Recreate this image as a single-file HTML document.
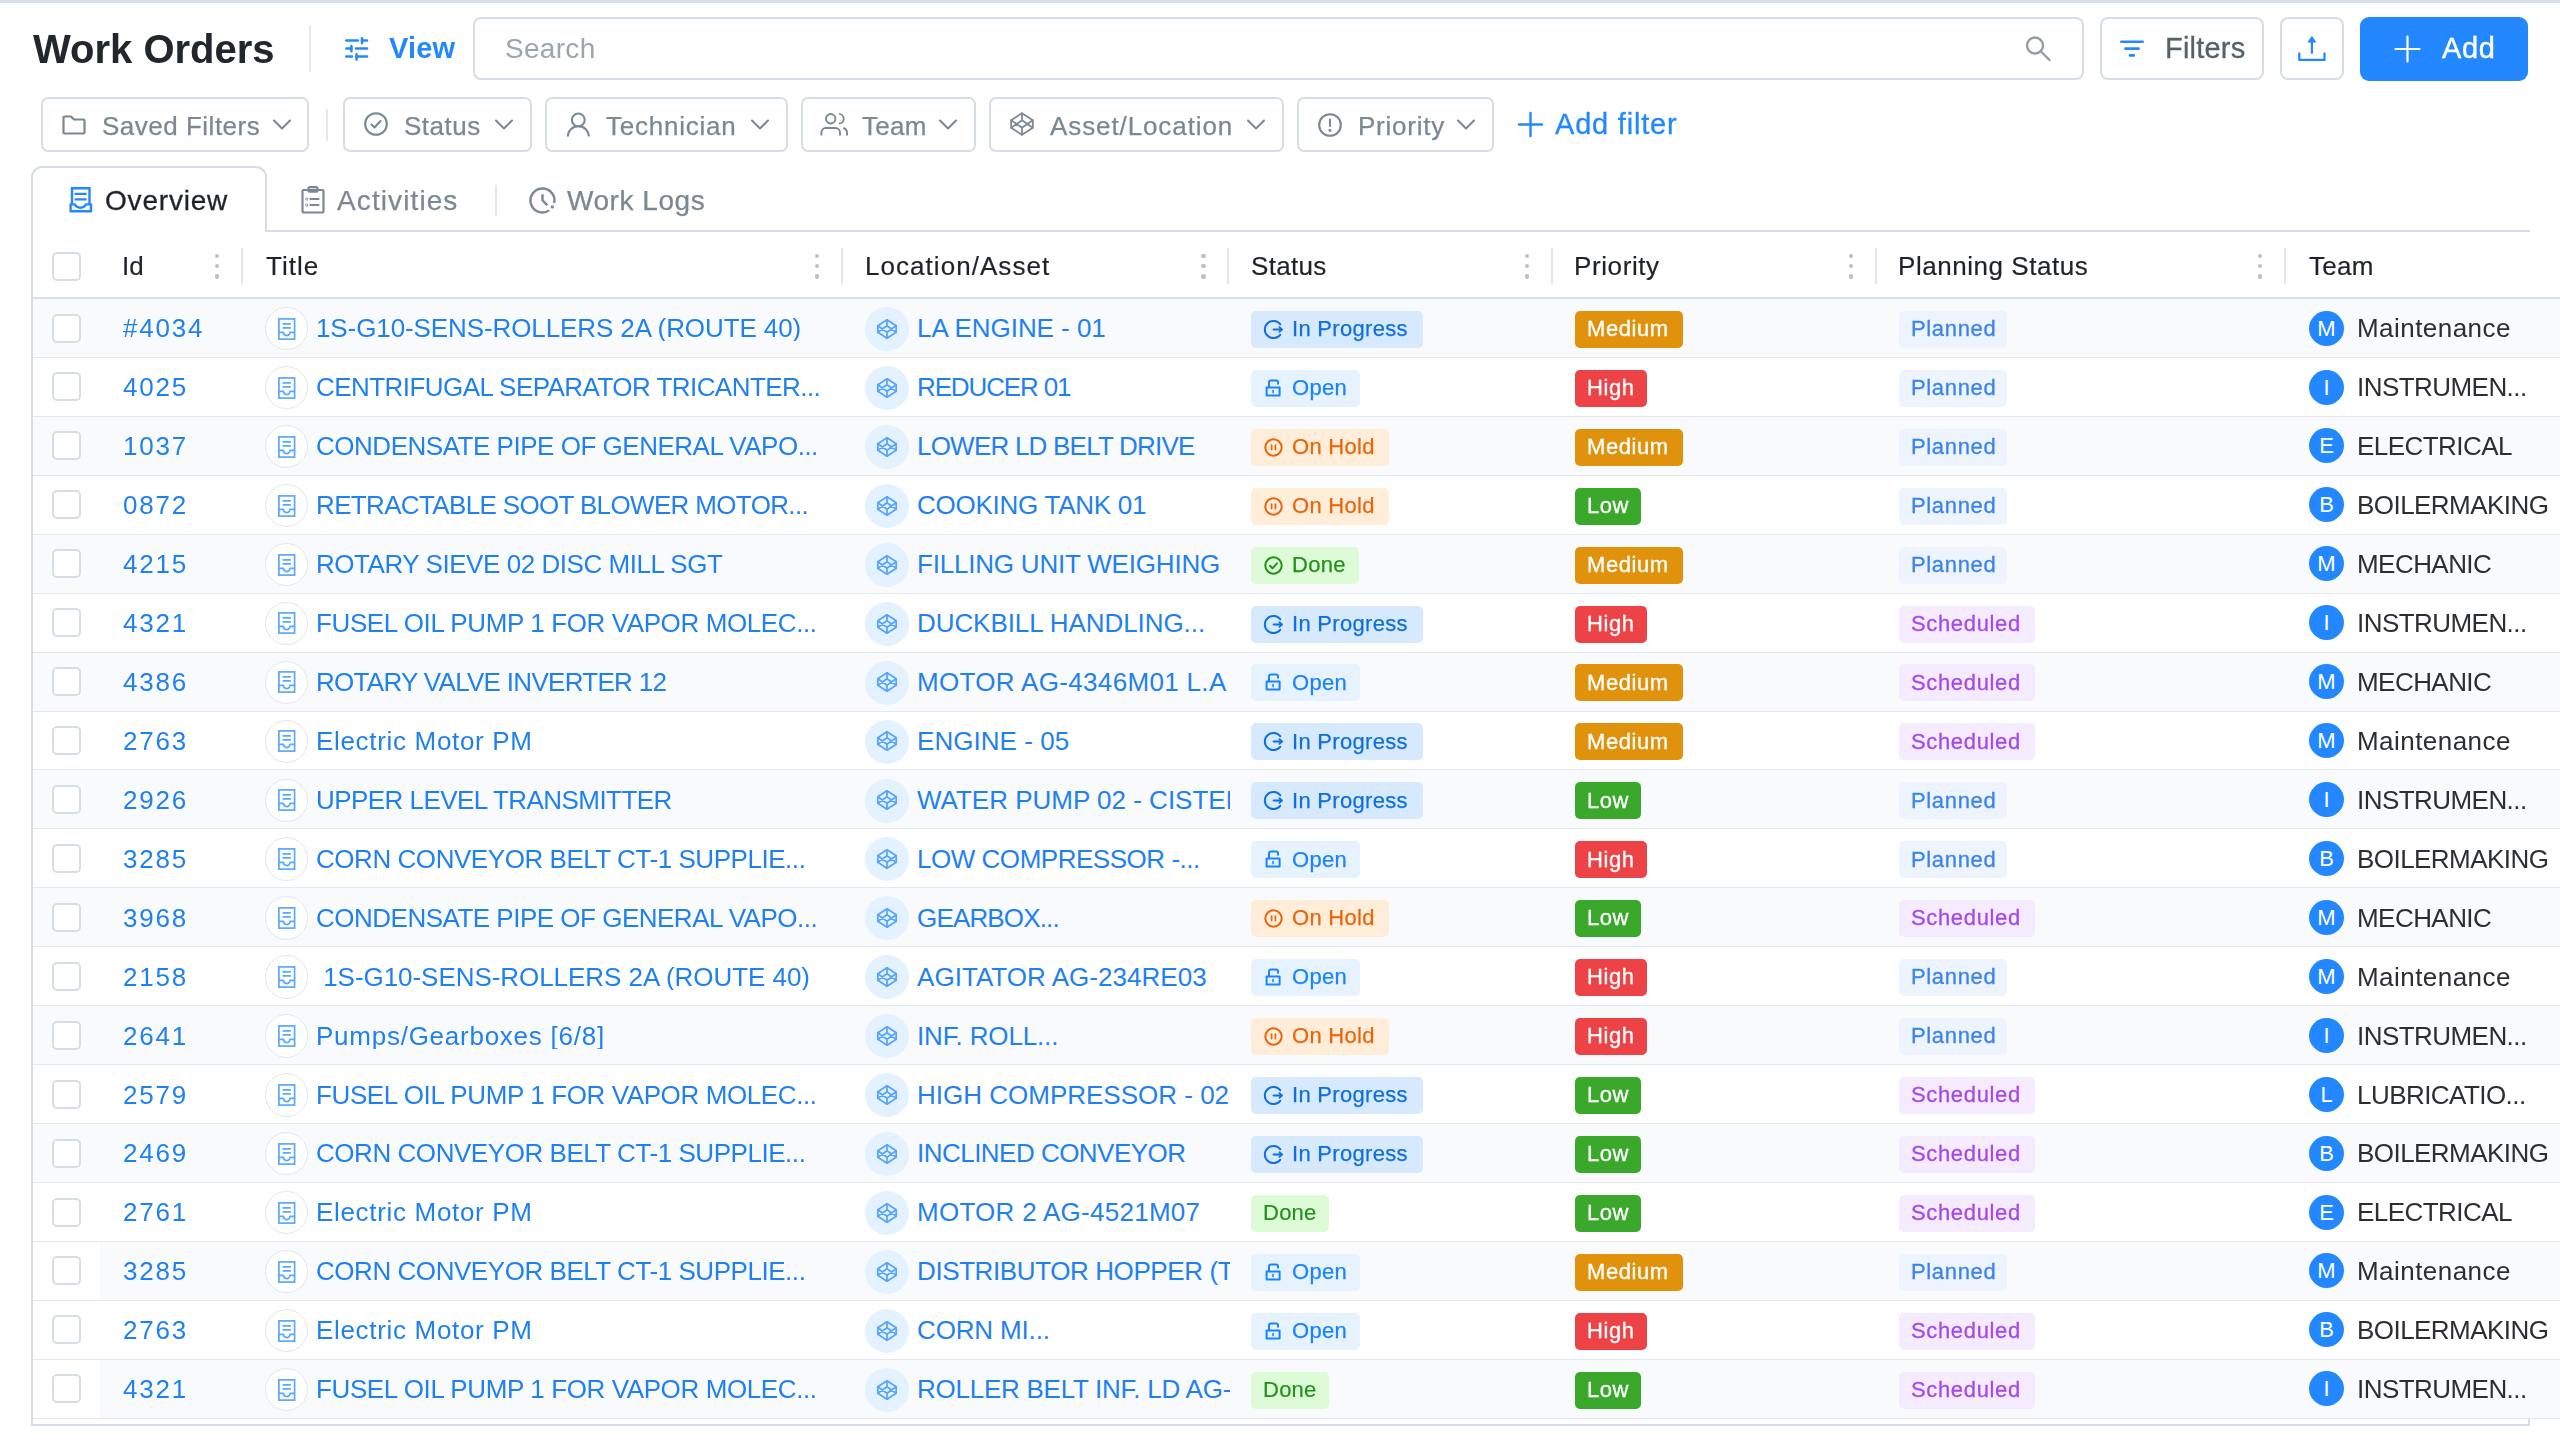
<!DOCTYPE html>
<html><head><meta charset="utf-8"><title>Work Orders</title>
<style>
html,body{margin:0;padding:0;background:#fff;}
body{width:2560px;height:1440px;position:relative;overflow:hidden;font-family:"Liberation Sans", sans-serif;}
.t{position:absolute;white-space:nowrap;line-height:1;}
.t{will-change:transform;}
svg{display:block}
</style></head><body>
<div style="position:absolute;left:0px;top:0px;width:2560px;height:3px;background:#d9dfe6"></div>
<div class="t" style="left:32.50px;top:28.64px;font-size:40px;color:#22262d;font-weight:700;letter-spacing:0px;">Work Orders</div>
<div style="position:absolute;left:309px;top:25px;width:2px;height:47px;background:#e3e8ed"></div>
<svg style="position:absolute;left:345px;top:36px;overflow:visible" width="24" height="26" viewBox="0 0 24 26" fill="none" stroke="#2388ff" stroke-width="2.5" stroke-linecap="round" stroke-linejoin="round" ><path d="M1.3 4.6h11.5M17 4.6h5M1.3 12.5h5.1M11 12.5h11M1.3 20.5h5.7M11.5 20.5h10.5"/><path d="M17 2.2v5M6.4 10.1v5.2M11.5 18.3v5.2"/></svg>
<div class="t" style="left:389.00px;top:34.15px;font-size:29px;color:#2388ff;font-weight:700;letter-spacing:0.2px;">View</div>
<div style="position:absolute;left:473px;top:17px;width:1611px;height:63px;box-sizing:border-box;border:2px solid #d7dde5;border-radius:8px;background:#fff"></div>
<div class="t" style="left:505.00px;top:34.80px;font-size:28px;color:#9ca4ad;font-weight:400;letter-spacing:0.3px;">Search</div>
<svg style="position:absolute;left:2025px;top:36px;overflow:visible" width="26" height="26" viewBox="0 0 26 26" fill="none" stroke="#939ca5" stroke-width="2.3" stroke-linecap="round" stroke-linejoin="round" ><circle cx="10" cy="9.5" r="8"/><path d="M16 15.5l8.5 8.5"/></svg>
<div style="position:absolute;left:2100px;top:17px;width:164px;height:63px;box-sizing:border-box;border:2px solid #d7dde5;border-radius:8px;background:#fff"></div>
<svg style="position:absolute;left:2120px;top:40px;overflow:visible" width="24" height="17" viewBox="0 0 24 17" fill="none" stroke="#2388ff" stroke-width="2.6" stroke-linecap="round" stroke-linejoin="round" ><path d="M1.3 1.7h21.4M5.4 8.6h13.2M9.9 15.4h3.9"/></svg>
<div class="t" style="left:2165.00px;top:34.15px;font-size:29px;color:#56616c;font-weight:400;letter-spacing:0.2px;-webkit-text-stroke:0.3px;">Filters</div>
<div style="position:absolute;left:2280px;top:17px;width:64px;height:63px;box-sizing:border-box;border:2px solid #d7dde5;border-radius:8px;background:#fff"></div>
<svg style="position:absolute;left:2298px;top:35px;overflow:visible" width="28" height="27" viewBox="0 0 28 27" fill="none" stroke="#2388ff" stroke-width="2.2" stroke-linecap="round" stroke-linejoin="round" ><path d="M13.9 6.5V18.7" stroke-linecap="butt"/><path d="M9.4 7.4L13.9 0.8l4.5 6.6z" fill="#2388ff" stroke="none"/><path d="M1.3 17.6v7.3h25.2v-7.3" stroke-linecap="butt" stroke-linejoin="miter"/></svg>
<div style="position:absolute;left:2360px;top:17px;width:168px;height:64px;background:#2388ff;border-radius:9px"></div>
<svg style="position:absolute;left:2395px;top:36px;overflow:visible" width="25" height="26" viewBox="0 0 25 26" fill="none" stroke="#fff" stroke-width="2.2" stroke-linecap="round" stroke-linejoin="round" ><path d="M12.5 0.5v25M0.5 13h24"/></svg>
<div class="t" style="left:2441.50px;top:34.45px;font-size:29px;color:#fff;font-weight:400;letter-spacing:0.6px;-webkit-text-stroke:0.4px #fff;">Add</div>
<div style="position:absolute;left:41px;top:97px;width:268px;height:55px;box-sizing:border-box;border:2px solid #d7dde5;border-radius:7px;background:#fff"></div>
<svg style="position:absolute;left:62px;top:115px;overflow:visible" width="24" height="20" viewBox="0 0 24 20" fill="none" stroke="#7b8894" stroke-width="2.2" stroke-linecap="round" stroke-linejoin="round" ><path d="M1.5 2.5a1 1 0 0 1 1-1h6.5l3 3h9.5a1 1 0 0 1 1 1v12a1 1 0 0 1-1 1h-19a1 1 0 0 1-1-1z"/></svg>
<div class="t" style="left:102.00px;top:112.59px;font-size:26px;color:#7b8894;font-weight:400;letter-spacing:0.5px;-webkit-text-stroke:0.25px;">Saved Filters</div>
<svg style="position:absolute;left:273px;top:119px;overflow:visible" width="18" height="11" viewBox="0 0 18 11" fill="none" stroke="#7b8894" stroke-width="2.1" stroke-linecap="round" stroke-linejoin="round" ><path d="M1 1.5l8 8 8-8"/></svg>
<div style="position:absolute;left:326px;top:109px;width:2px;height:32px;background:#e3e8ed"></div>
<div style="position:absolute;left:343px;top:97px;width:189px;height:55px;box-sizing:border-box;border:2px solid #d7dde5;border-radius:7px;background:#fff"></div>
<svg style="position:absolute;left:364px;top:112px;overflow:visible" width="24" height="24" viewBox="0 0 24 24" fill="none" stroke="#7b8894" stroke-width="2.1" stroke-linecap="round" stroke-linejoin="round" ><circle cx="12" cy="12" r="10.8"/><path d="M7.5 12.5l3 3 6-6.5"/></svg>
<div class="t" style="left:404.00px;top:112.59px;font-size:26px;color:#7b8894;font-weight:400;letter-spacing:0.5px;-webkit-text-stroke:0.25px;">Status</div>
<svg style="position:absolute;left:495px;top:119px;overflow:visible" width="18" height="11" viewBox="0 0 18 11" fill="none" stroke="#7b8894" stroke-width="2.1" stroke-linecap="round" stroke-linejoin="round" ><path d="M1 1.5l8 8 8-8"/></svg>
<div style="position:absolute;left:545px;top:97px;width:243px;height:55px;box-sizing:border-box;border:2px solid #d7dde5;border-radius:7px;background:#fff"></div>
<svg style="position:absolute;left:566px;top:112px;overflow:visible" width="24" height="25" viewBox="0 0 24 25" fill="none" stroke="#7b8894" stroke-width="2.1" stroke-linecap="round" stroke-linejoin="round" ><circle cx="12.3" cy="7.9" r="6.4"/><path d="M1.8 24.6c0-6 4.6-10.3 10.5-10.3s10.5 4.3 10.5 10.3" stroke-linecap="butt"/></svg>
<div class="t" style="left:606.00px;top:112.59px;font-size:26px;color:#7b8894;font-weight:400;letter-spacing:0.75px;-webkit-text-stroke:0.25px;">Technician</div>
<svg style="position:absolute;left:751px;top:119px;overflow:visible" width="18" height="11" viewBox="0 0 18 11" fill="none" stroke="#7b8894" stroke-width="2.1" stroke-linecap="round" stroke-linejoin="round" ><path d="M1 1.5l8 8 8-8"/></svg>
<div style="position:absolute;left:801px;top:97px;width:175px;height:55px;box-sizing:border-box;border:2px solid #d7dde5;border-radius:7px;background:#fff"></div>
<svg style="position:absolute;left:820px;top:113px;overflow:visible" width="29" height="24" viewBox="0 0 29 24" fill="none" stroke="#7b8894" stroke-width="1.9" stroke-linecap="round" stroke-linejoin="round" ><circle cx="10.7" cy="5.75" r="4.7"/><path d="M1.4 22.6V19.5a4.5 4.5 0 0 1 4.5-4.5H15.5a4.5 4.5 0 0 1 4.5 4.5V22.6" stroke-linecap="butt"/><path d="M18.9 0.9a4.85 4.85 0 0 1 0 9.7M23.3 15c2.2 0.6 3.7 2.4 3.7 4.8v2.8" stroke-linecap="butt"/></svg>
<div class="t" style="left:861.50px;top:112.59px;font-size:26px;color:#7b8894;font-weight:400;letter-spacing:0.3px;-webkit-text-stroke:0.25px;">Team</div>
<svg style="position:absolute;left:939px;top:119px;overflow:visible" width="18" height="11" viewBox="0 0 18 11" fill="none" stroke="#7b8894" stroke-width="2.1" stroke-linecap="round" stroke-linejoin="round" ><path d="M1 1.5l8 8 8-8"/></svg>
<div style="position:absolute;left:989px;top:97px;width:295px;height:55px;box-sizing:border-box;border:2px solid #d7dde5;border-radius:7px;background:#fff"></div>
<svg style="position:absolute;left:1009.3px;top:111.3px;overflow:visible" width="26" height="26" viewBox="0 0 24 24" fill="none" stroke="#7b8894" stroke-width="1.6" stroke-linecap="round" stroke-linejoin="round" ><path d="M12 2l10 6.5v7L12 22 2 15.5v-7z"/><path d="M12 22v-6.5M22 8.5l-10 7-10-7M2 15.5l10-7 10 7M12 2v6.5"/></svg>
<div class="t" style="left:1049.50px;top:112.59px;font-size:26px;color:#7b8894;font-weight:400;letter-spacing:0.9px;-webkit-text-stroke:0.25px;">Asset/Location</div>
<svg style="position:absolute;left:1247px;top:119px;overflow:visible" width="18" height="11" viewBox="0 0 18 11" fill="none" stroke="#7b8894" stroke-width="2.1" stroke-linecap="round" stroke-linejoin="round" ><path d="M1 1.5l8 8 8-8"/></svg>
<div style="position:absolute;left:1297px;top:97px;width:197px;height:55px;box-sizing:border-box;border:2px solid #d7dde5;border-radius:7px;background:#fff"></div>
<svg style="position:absolute;left:1318px;top:113px;overflow:visible" width="24" height="24" viewBox="0 0 24 24" fill="none" stroke="#7b8894" stroke-width="2.1" stroke-linecap="round" stroke-linejoin="round" ><circle cx="12" cy="12" r="10.8"/><path d="M12 6.5v6.5"/><circle cx="12" cy="17.3" r="0.6" fill="#7b8894"/></svg>
<div class="t" style="left:1358.00px;top:112.59px;font-size:26px;color:#7b8894;font-weight:400;letter-spacing:0.75px;-webkit-text-stroke:0.25px;">Priority</div>
<svg style="position:absolute;left:1457px;top:119px;overflow:visible" width="18" height="11" viewBox="0 0 18 11" fill="none" stroke="#7b8894" stroke-width="2.1" stroke-linecap="round" stroke-linejoin="round" ><path d="M1 1.5l8 8 8-8"/></svg>
<svg style="position:absolute;left:1518px;top:112px;overflow:visible" width="25" height="25" viewBox="0 0 25 25" fill="none" stroke="#2388ff" stroke-width="2.4" stroke-linecap="round" stroke-linejoin="round" ><path d="M12.5 1v23M1 12.5h23"/></svg>
<div class="t" style="left:1555.00px;top:110.05px;font-size:29px;color:#2388ff;font-weight:400;letter-spacing:0.8px;-webkit-text-stroke:0.3px;">Add filter</div>
<div style="position:absolute;left:31px;top:177px;width:2px;height:1249px;background:#d6dde5"></div>
<div style="position:absolute;left:31px;top:1424px;width:2499px;height:2px;background:#d6dde5"></div>
<div style="position:absolute;left:2528px;top:1417px;width:2px;height:9px;background:#d6dde5"></div>
<div style="position:absolute;left:31px;top:166px;width:236px;height:66px;box-sizing:border-box;border:2px solid #d6dde5;border-bottom:none;border-radius:11px 11px 0 0;background:#fff"></div>
<div style="position:absolute;left:265px;top:230px;width:2265px;height:2px;background:#d6dde5"></div>
<svg style="position:absolute;left:69px;top:187px;overflow:visible" width="24" height="27" viewBox="0 0 24 27" fill="none" stroke="#2388ff" stroke-width="2.4" stroke-linecap="round" stroke-linejoin="round" ><path d="M3 16.8V1.3h17.5v15.5" stroke-linejoin="miter"/><path d="M6.6 6.9h10M6.6 12.4h10"/><path d="M1.6 17.4H6C7.5 21.8 15.3 21.8 16.8 17.4H22V24.3H1.6z"/></svg>
<div class="t" style="left:105.00px;top:186.90px;font-size:28px;color:#1f2329;font-weight:400;letter-spacing:0.8px;-webkit-text-stroke:0.3px;">Overview</div>
<svg style="position:absolute;left:301px;top:186px;overflow:visible" width="24" height="28" viewBox="0 0 24 28" fill="none" stroke="#7b8894" stroke-width="2.2" stroke-linecap="round" stroke-linejoin="round" ><rect x="1.5" y="4" width="21" height="22.5" rx="1"/><rect x="7.5" y="1.2" width="9" height="4.5" rx="1.5"/><path d="M9.5 13h8M9.5 19h8"/><circle cx="5.8" cy="13" r="0.4"/><circle cx="5.8" cy="19" r="0.4"/></svg>
<div class="t" style="left:337.00px;top:186.90px;font-size:28px;color:#7b8894;font-weight:400;letter-spacing:1.1px;-webkit-text-stroke:0.25px;">Activities</div>
<div style="position:absolute;left:495px;top:185px;width:2px;height:31px;background:#e3e8ed"></div>
<svg style="position:absolute;left:529px;top:187px;overflow:visible" width="27" height="27" viewBox="0 0 27 27" fill="none" stroke="#7b8894" stroke-width="2.4" stroke-linecap="round" stroke-linejoin="round" ><path d="M20.24 23.38A12 12 0 1 1 25.2 16.05" stroke-linecap="butt"/><path d="M13.5 7.2v6.1l4.9 5.1" stroke-linecap="butt" stroke-linejoin="miter"/><circle cx="23.3" cy="19.9" r="1.7" fill="#7b8894" stroke="none"/></svg>
<div class="t" style="left:567.00px;top:186.90px;font-size:28px;color:#7b8894;font-weight:400;letter-spacing:0.55px;-webkit-text-stroke:0.25px;">Work Logs</div>
<div style="position:absolute;left:52px;top:252px;width:29px;height:29px;box-sizing:border-box;border:2px solid #d7dde5;border-radius:5px;background:#fff"></div>
<div class="t" style="left:121.50px;top:253.19px;font-size:26px;color:#1f2329;font-weight:400;letter-spacing:0px;-webkit-text-stroke:0.2px #1f2329;">Id</div>
<div class="t" style="left:266.00px;top:253.19px;font-size:26px;color:#1f2329;font-weight:400;letter-spacing:1.0px;-webkit-text-stroke:0.2px #1f2329;">Title</div>
<div class="t" style="left:864.50px;top:253.19px;font-size:26px;color:#1f2329;font-weight:400;letter-spacing:1.05px;-webkit-text-stroke:0.2px #1f2329;">Location/Asset</div>
<div class="t" style="left:1251.30px;top:253.19px;font-size:26px;color:#1f2329;font-weight:400;letter-spacing:0.3px;-webkit-text-stroke:0.2px #1f2329;">Status</div>
<div class="t" style="left:1574.00px;top:253.19px;font-size:26px;color:#1f2329;font-weight:400;letter-spacing:0.6px;-webkit-text-stroke:0.2px #1f2329;">Priority</div>
<div class="t" style="left:1898.00px;top:253.19px;font-size:26px;color:#1f2329;font-weight:400;letter-spacing:0.55px;-webkit-text-stroke:0.2px #1f2329;">Planning Status</div>
<div class="t" style="left:2309.00px;top:253.19px;font-size:26px;color:#1f2329;font-weight:400;letter-spacing:0.3px;-webkit-text-stroke:0.2px #1f2329;">Team</div>
<div style="position:absolute;left:214.8px;top:253.60000000000002px;width:4.4px;height:4.4px;border-radius:50%;background:#b9c0c8"></div>
<div style="position:absolute;left:214.8px;top:264.0px;width:4.4px;height:4.4px;border-radius:50%;background:#b9c0c8"></div>
<div style="position:absolute;left:214.8px;top:274.40000000000003px;width:4.4px;height:4.4px;border-radius:50%;background:#b9c0c8"></div>
<div style="position:absolute;left:814.8px;top:253.60000000000002px;width:4.4px;height:4.4px;border-radius:50%;background:#b9c0c8"></div>
<div style="position:absolute;left:814.8px;top:264.0px;width:4.4px;height:4.4px;border-radius:50%;background:#b9c0c8"></div>
<div style="position:absolute;left:814.8px;top:274.40000000000003px;width:4.4px;height:4.4px;border-radius:50%;background:#b9c0c8"></div>
<div style="position:absolute;left:1201.3px;top:253.60000000000002px;width:4.4px;height:4.4px;border-radius:50%;background:#b9c0c8"></div>
<div style="position:absolute;left:1201.3px;top:264.0px;width:4.4px;height:4.4px;border-radius:50%;background:#b9c0c8"></div>
<div style="position:absolute;left:1201.3px;top:274.40000000000003px;width:4.4px;height:4.4px;border-radius:50%;background:#b9c0c8"></div>
<div style="position:absolute;left:1524.8px;top:253.60000000000002px;width:4.4px;height:4.4px;border-radius:50%;background:#b9c0c8"></div>
<div style="position:absolute;left:1524.8px;top:264.0px;width:4.4px;height:4.4px;border-radius:50%;background:#b9c0c8"></div>
<div style="position:absolute;left:1524.8px;top:274.40000000000003px;width:4.4px;height:4.4px;border-radius:50%;background:#b9c0c8"></div>
<div style="position:absolute;left:1848.8px;top:253.60000000000002px;width:4.4px;height:4.4px;border-radius:50%;background:#b9c0c8"></div>
<div style="position:absolute;left:1848.8px;top:264.0px;width:4.4px;height:4.4px;border-radius:50%;background:#b9c0c8"></div>
<div style="position:absolute;left:1848.8px;top:274.40000000000003px;width:4.4px;height:4.4px;border-radius:50%;background:#b9c0c8"></div>
<div style="position:absolute;left:2257.8px;top:253.60000000000002px;width:4.4px;height:4.4px;border-radius:50%;background:#b9c0c8"></div>
<div style="position:absolute;left:2257.8px;top:264.0px;width:4.4px;height:4.4px;border-radius:50%;background:#b9c0c8"></div>
<div style="position:absolute;left:2257.8px;top:274.40000000000003px;width:4.4px;height:4.4px;border-radius:50%;background:#b9c0c8"></div>
<div style="position:absolute;left:241px;top:248px;width:2px;height:36px;background:#e1e6eb"></div>
<div style="position:absolute;left:841px;top:248px;width:2px;height:36px;background:#e1e6eb"></div>
<div style="position:absolute;left:1227px;top:248px;width:2px;height:36px;background:#e1e6eb"></div>
<div style="position:absolute;left:1551px;top:248px;width:2px;height:36px;background:#e1e6eb"></div>
<div style="position:absolute;left:1875px;top:248px;width:2px;height:36px;background:#e1e6eb"></div>
<div style="position:absolute;left:2284px;top:248px;width:2px;height:36px;background:#e1e6eb"></div>
<div style="position:absolute;left:33px;top:297px;width:2527px;height:2px;background:#d9e0e7"></div>
<div style="position:absolute;left:33px;top:299px;width:2527px;height:59px;background:#f9fafc"></div>
<div style="position:absolute;left:33px;top:357px;width:2527px;height:1.2px;background:#e4e8ed"></div>
<div style="position:absolute;left:52px;top:314px;width:29px;height:29px;box-sizing:border-box;border:2px solid #d7dde5;border-radius:5px;background:#fff"></div>
<div class="t" style="left:123.00px;top:315.46px;font-size:26px;color:#1f80f1;font-weight:400;letter-spacing:1.8px;">#4034</div>
<div style="position:absolute;left:265px;top:307.06px;width:43.4px;height:43.4px;box-sizing:border-box;border:1.6px solid #e1e6eb;border-radius:50%;background:#fff"></div>
<svg style="position:absolute;left:278.3px;top:317.8px;overflow:visible" width="17.5" height="22" viewBox="0 0 17.5 22" fill="none" stroke="#5aa8ff" stroke-width="1.7" stroke-linecap="round" stroke-linejoin="round" ><rect x="0.9" y="0.9" width="15.7" height="20.2" stroke-linejoin="miter"/><path d="M4.6 5.8h8.3M4.6 9.8h8.3" stroke-linecap="butt"/><path d="M0.9 14.3h4.6a3.25 3.25 0 0 0 6.5 0h4.6" stroke-linecap="butt"/></svg>
<div class="t" style="left:315.70px;top:315.46px;font-size:26px;color:#1f80f1;font-weight:400;letter-spacing:-0.1px;width:520px;overflow:hidden;">1S-G10-SENS-ROLLERS 2A (ROUTE 40)</div>
<div style="position:absolute;left:865px;top:307.06px;width:44px;height:44px;border-radius:50%;background:#e4f1fe"></div>
<svg style="position:absolute;left:876px;top:317.9px;overflow:visible" width="22" height="22" viewBox="0 0 24 24" fill="none" stroke="#55a4fd" stroke-width="1.9" stroke-linecap="round" stroke-linejoin="round" ><path d="M12 2l10 6.5v7L12 22 2 15.5v-7z"/><path d="M12 22v-6.5M22 8.5l-10 7-10-7M2 15.5l10-7 10 7M12 2v6.5"/></svg>
<div style="position:absolute;left:917px;top:315.46px;width:313px;height:30px;overflow:hidden;white-space:nowrap;font-size:26px;line-height:26px;color:#1f80f1;letter-spacing:-0.04px">LA ENGINE - 01</div>
<div style="position:absolute;left:1251px;top:310.9px;width:172px;height:37px;background:#d6e9fd;border-radius:5px"></div>
<svg style="position:absolute;left:1264px;top:319.9px;overflow:visible" width="19" height="19" viewBox="0 0 19 19" fill="none" stroke="#0f6fdc" stroke-width="2" stroke-linecap="round" stroke-linejoin="round" ><path d="M16.2 4.2A8.6 8.6 0 1 0 16.2 14.8"/><path d="M9.6 9.5h8.2"/><path d="M15.4 7.1l2.4 2.4-2.4 2.4" stroke-width="1.8"/></svg>
<div class="t" style="left:1291.50px;top:318.14px;font-size:22px;color:#0f6fdc;font-weight:400;letter-spacing:0.3px;-webkit-text-stroke:0.25px;">In Progress</div>
<div style="position:absolute;left:1575px;top:310.9px;width:108px;height:37px;background:#e0920d;border-radius:5px"></div>
<div class="t" style="left:1587.00px;top:318.14px;font-size:22px;color:#fff;font-weight:400;letter-spacing:0.55px;-webkit-text-stroke:0.3px #fff;">Medium</div>
<div style="position:absolute;left:1899px;top:310.9px;width:108px;height:37px;background:#edf4fe;border-radius:5px"></div>
<div class="t" style="left:1910.80px;top:318.14px;font-size:22px;color:#3a83ef;font-weight:400;letter-spacing:0.65px;-webkit-text-stroke:0.3px;">Planned</div>
<div style="position:absolute;left:2309px;top:310.56px;width:35px;height:35px;border-radius:50%;background:#2388ff;color:#fff;font-size:22px;line-height:35px;text-align:center">M</div>
<div class="t" style="left:2357.00px;top:315.46px;font-size:26px;color:#2b2e33;font-weight:400;letter-spacing:0.45px;">Maintenance</div>
<div style="position:absolute;left:33px;top:416px;width:2527px;height:1.2px;background:#e4e8ed"></div>
<div style="position:absolute;left:52px;top:372px;width:29px;height:29px;box-sizing:border-box;border:2px solid #d7dde5;border-radius:5px;background:#fff"></div>
<div class="t" style="left:123.00px;top:374.39px;font-size:26px;color:#1f80f1;font-weight:400;letter-spacing:1.8px;">4025</div>
<div style="position:absolute;left:265px;top:366.00px;width:43.4px;height:43.4px;box-sizing:border-box;border:1.6px solid #e1e6eb;border-radius:50%;background:#fff"></div>
<svg style="position:absolute;left:278.3px;top:376.7px;overflow:visible" width="17.5" height="22" viewBox="0 0 17.5 22" fill="none" stroke="#5aa8ff" stroke-width="1.7" stroke-linecap="round" stroke-linejoin="round" ><rect x="0.9" y="0.9" width="15.7" height="20.2" stroke-linejoin="miter"/><path d="M4.6 5.8h8.3M4.6 9.8h8.3" stroke-linecap="butt"/><path d="M0.9 14.3h4.6a3.25 3.25 0 0 0 6.5 0h4.6" stroke-linecap="butt"/></svg>
<div class="t" style="left:315.70px;top:374.39px;font-size:26px;color:#1f80f1;font-weight:400;letter-spacing:-0.55px;width:520px;overflow:hidden;">CENTRIFUGAL SEPARATOR TRICANTER...</div>
<div style="position:absolute;left:865px;top:366.00px;width:44px;height:44px;border-radius:50%;background:#e4f1fe"></div>
<svg style="position:absolute;left:876px;top:376.8px;overflow:visible" width="22" height="22" viewBox="0 0 24 24" fill="none" stroke="#55a4fd" stroke-width="1.9" stroke-linecap="round" stroke-linejoin="round" ><path d="M12 2l10 6.5v7L12 22 2 15.5v-7z"/><path d="M12 22v-6.5M22 8.5l-10 7-10-7M2 15.5l10-7 10 7M12 2v6.5"/></svg>
<div style="position:absolute;left:917px;top:374.39px;width:313px;height:30px;overflow:hidden;white-space:nowrap;font-size:26px;line-height:26px;color:#1f80f1;letter-spacing:-1.13px">REDUCER 01</div>
<div style="position:absolute;left:1251px;top:369.8px;width:109px;height:37px;background:#e6f2fe;border-radius:5px"></div>
<svg style="position:absolute;left:1264px;top:378.8px;overflow:visible" width="19" height="19" viewBox="0 0 19 19" fill="none" stroke="#1a84ff" stroke-width="2" stroke-linecap="round" stroke-linejoin="round" ><path d="M5 8.2V3.4a2 2 0 0 1 2-2h5a2 2 0 0 1 2 2v1.4"/><rect x="2.6" y="8.6" width="13" height="8"/><path d="M9.1 11.6v2" stroke-width="1.6"/></svg>
<div class="t" style="left:1291.50px;top:377.07px;font-size:22px;color:#1a84ff;font-weight:400;letter-spacing:0.3px;-webkit-text-stroke:0.25px;">Open</div>
<div style="position:absolute;left:1575px;top:369.8px;width:72px;height:37px;background:#ee4346;border-radius:5px"></div>
<div class="t" style="left:1587.00px;top:377.07px;font-size:22px;color:#fff;font-weight:400;letter-spacing:0.55px;-webkit-text-stroke:0.3px #fff;">High</div>
<div style="position:absolute;left:1899px;top:369.8px;width:108px;height:37px;background:#edf4fe;border-radius:5px"></div>
<div class="t" style="left:1910.80px;top:377.07px;font-size:22px;color:#3a83ef;font-weight:400;letter-spacing:0.65px;-webkit-text-stroke:0.3px;">Planned</div>
<div style="position:absolute;left:2309px;top:369.50px;width:35px;height:35px;border-radius:50%;background:#2388ff;color:#fff;font-size:22px;line-height:35px;text-align:center">I</div>
<div class="t" style="left:2357.00px;top:374.39px;font-size:26px;color:#2b2e33;font-weight:400;letter-spacing:-0.55px;">INSTRUMEN...</div>
<div style="position:absolute;left:33px;top:417px;width:2527px;height:59px;background:#f9fafc"></div>
<div style="position:absolute;left:33px;top:475px;width:2527px;height:1.2px;background:#e4e8ed"></div>
<div style="position:absolute;left:52px;top:431px;width:29px;height:29px;box-sizing:border-box;border:2px solid #d7dde5;border-radius:5px;background:#fff"></div>
<div class="t" style="left:123.00px;top:433.32px;font-size:26px;color:#1f80f1;font-weight:400;letter-spacing:1.8px;">1037</div>
<div style="position:absolute;left:265px;top:424.93px;width:43.4px;height:43.4px;box-sizing:border-box;border:1.6px solid #e1e6eb;border-radius:50%;background:#fff"></div>
<svg style="position:absolute;left:278.3px;top:435.6px;overflow:visible" width="17.5" height="22" viewBox="0 0 17.5 22" fill="none" stroke="#5aa8ff" stroke-width="1.7" stroke-linecap="round" stroke-linejoin="round" ><rect x="0.9" y="0.9" width="15.7" height="20.2" stroke-linejoin="miter"/><path d="M4.6 5.8h8.3M4.6 9.8h8.3" stroke-linecap="butt"/><path d="M0.9 14.3h4.6a3.25 3.25 0 0 0 6.5 0h4.6" stroke-linecap="butt"/></svg>
<div class="t" style="left:315.70px;top:433.32px;font-size:26px;color:#1f80f1;font-weight:400;letter-spacing:-0.48px;width:520px;overflow:hidden;">CONDENSATE PIPE OF GENERAL VAPO...</div>
<div style="position:absolute;left:865px;top:424.93px;width:44px;height:44px;border-radius:50%;background:#e4f1fe"></div>
<svg style="position:absolute;left:876px;top:435.7px;overflow:visible" width="22" height="22" viewBox="0 0 24 24" fill="none" stroke="#55a4fd" stroke-width="1.9" stroke-linecap="round" stroke-linejoin="round" ><path d="M12 2l10 6.5v7L12 22 2 15.5v-7z"/><path d="M12 22v-6.5M22 8.5l-10 7-10-7M2 15.5l10-7 10 7M12 2v6.5"/></svg>
<div style="position:absolute;left:917px;top:433.32px;width:313px;height:30px;overflow:hidden;white-space:nowrap;font-size:26px;line-height:26px;color:#1f80f1;letter-spacing:-0.78px">LOWER LD BELT DRIVE</div>
<div style="position:absolute;left:1251px;top:428.7px;width:138px;height:37px;background:#ffedd9;border-radius:5px"></div>
<svg style="position:absolute;left:1264px;top:437.7px;overflow:visible" width="19" height="19" viewBox="0 0 19 19" fill="none" stroke="#e8660c" stroke-width="2" stroke-linecap="round" stroke-linejoin="round" ><circle cx="9.5" cy="9.5" r="8.2"/><path d="M7.6 7v4.6M11.4 7v4.6" stroke-width="1.7"/></svg>
<div class="t" style="left:1291.50px;top:436.00px;font-size:22px;color:#e8660c;font-weight:400;letter-spacing:0.3px;-webkit-text-stroke:0.25px;">On Hold</div>
<div style="position:absolute;left:1575px;top:428.7px;width:108px;height:37px;background:#e0920d;border-radius:5px"></div>
<div class="t" style="left:1587.00px;top:436.00px;font-size:22px;color:#fff;font-weight:400;letter-spacing:0.55px;-webkit-text-stroke:0.3px #fff;">Medium</div>
<div style="position:absolute;left:1899px;top:428.7px;width:108px;height:37px;background:#edf4fe;border-radius:5px"></div>
<div class="t" style="left:1910.80px;top:436.00px;font-size:22px;color:#3a83ef;font-weight:400;letter-spacing:0.65px;-webkit-text-stroke:0.3px;">Planned</div>
<div style="position:absolute;left:2309px;top:428.43px;width:35px;height:35px;border-radius:50%;background:#2388ff;color:#fff;font-size:22px;line-height:35px;text-align:center">E</div>
<div class="t" style="left:2357.00px;top:433.32px;font-size:26px;color:#2b2e33;font-weight:400;letter-spacing:-0.55px;">ELECTRICAL</div>
<div style="position:absolute;left:33px;top:534px;width:2527px;height:1.2px;background:#e4e8ed"></div>
<div style="position:absolute;left:52px;top:490px;width:29px;height:29px;box-sizing:border-box;border:2px solid #d7dde5;border-radius:5px;background:#fff"></div>
<div class="t" style="left:123.00px;top:492.25px;font-size:26px;color:#1f80f1;font-weight:400;letter-spacing:1.8px;">0872</div>
<div style="position:absolute;left:265px;top:483.85px;width:43.4px;height:43.4px;box-sizing:border-box;border:1.6px solid #e1e6eb;border-radius:50%;background:#fff"></div>
<svg style="position:absolute;left:278.3px;top:494.6px;overflow:visible" width="17.5" height="22" viewBox="0 0 17.5 22" fill="none" stroke="#5aa8ff" stroke-width="1.7" stroke-linecap="round" stroke-linejoin="round" ><rect x="0.9" y="0.9" width="15.7" height="20.2" stroke-linejoin="miter"/><path d="M4.6 5.8h8.3M4.6 9.8h8.3" stroke-linecap="butt"/><path d="M0.9 14.3h4.6a3.25 3.25 0 0 0 6.5 0h4.6" stroke-linecap="butt"/></svg>
<div class="t" style="left:315.70px;top:492.25px;font-size:26px;color:#1f80f1;font-weight:400;letter-spacing:-0.65px;width:520px;overflow:hidden;">RETRACTABLE SOOT BLOWER MOTOR...</div>
<div style="position:absolute;left:865px;top:483.85px;width:44px;height:44px;border-radius:50%;background:#e4f1fe"></div>
<svg style="position:absolute;left:876px;top:494.7px;overflow:visible" width="22" height="22" viewBox="0 0 24 24" fill="none" stroke="#55a4fd" stroke-width="1.9" stroke-linecap="round" stroke-linejoin="round" ><path d="M12 2l10 6.5v7L12 22 2 15.5v-7z"/><path d="M12 22v-6.5M22 8.5l-10 7-10-7M2 15.5l10-7 10 7M12 2v6.5"/></svg>
<div style="position:absolute;left:917px;top:492.25px;width:313px;height:30px;overflow:hidden;white-space:nowrap;font-size:26px;line-height:26px;color:#1f80f1;letter-spacing:-0.26px">COOKING TANK 01</div>
<div style="position:absolute;left:1251px;top:487.7px;width:138px;height:37px;background:#ffedd9;border-radius:5px"></div>
<svg style="position:absolute;left:1264px;top:496.7px;overflow:visible" width="19" height="19" viewBox="0 0 19 19" fill="none" stroke="#e8660c" stroke-width="2" stroke-linecap="round" stroke-linejoin="round" ><circle cx="9.5" cy="9.5" r="8.2"/><path d="M7.6 7v4.6M11.4 7v4.6" stroke-width="1.7"/></svg>
<div class="t" style="left:1291.50px;top:494.93px;font-size:22px;color:#e8660c;font-weight:400;letter-spacing:0.3px;-webkit-text-stroke:0.25px;">On Hold</div>
<div style="position:absolute;left:1575px;top:487.7px;width:66px;height:37px;background:#3aa82a;border-radius:5px"></div>
<div class="t" style="left:1587.00px;top:494.93px;font-size:22px;color:#fff;font-weight:400;letter-spacing:0.55px;-webkit-text-stroke:0.3px #fff;">Low</div>
<div style="position:absolute;left:1899px;top:487.7px;width:108px;height:37px;background:#edf4fe;border-radius:5px"></div>
<div class="t" style="left:1910.80px;top:494.93px;font-size:22px;color:#3a83ef;font-weight:400;letter-spacing:0.65px;-webkit-text-stroke:0.3px;">Planned</div>
<div style="position:absolute;left:2309px;top:487.35px;width:35px;height:35px;border-radius:50%;background:#2388ff;color:#fff;font-size:22px;line-height:35px;text-align:center">B</div>
<div class="t" style="left:2357.00px;top:492.25px;font-size:26px;color:#2b2e33;font-weight:400;letter-spacing:-0.55px;">BOILERMAKING</div>
<div style="position:absolute;left:33px;top:535px;width:2527px;height:59px;background:#f9fafc"></div>
<div style="position:absolute;left:33px;top:593px;width:2527px;height:1.2px;background:#e4e8ed"></div>
<div style="position:absolute;left:52px;top:549px;width:29px;height:29px;box-sizing:border-box;border:2px solid #d7dde5;border-radius:5px;background:#fff"></div>
<div class="t" style="left:123.00px;top:551.18px;font-size:26px;color:#1f80f1;font-weight:400;letter-spacing:1.8px;">4215</div>
<div style="position:absolute;left:265px;top:542.79px;width:43.4px;height:43.4px;box-sizing:border-box;border:1.6px solid #e1e6eb;border-radius:50%;background:#fff"></div>
<svg style="position:absolute;left:278.3px;top:553.5px;overflow:visible" width="17.5" height="22" viewBox="0 0 17.5 22" fill="none" stroke="#5aa8ff" stroke-width="1.7" stroke-linecap="round" stroke-linejoin="round" ><rect x="0.9" y="0.9" width="15.7" height="20.2" stroke-linejoin="miter"/><path d="M4.6 5.8h8.3M4.6 9.8h8.3" stroke-linecap="butt"/><path d="M0.9 14.3h4.6a3.25 3.25 0 0 0 6.5 0h4.6" stroke-linecap="butt"/></svg>
<div class="t" style="left:315.70px;top:551.18px;font-size:26px;color:#1f80f1;font-weight:400;letter-spacing:-0.45px;width:520px;overflow:hidden;">ROTARY SIEVE 02 DISC MILL SGT</div>
<div style="position:absolute;left:865px;top:542.79px;width:44px;height:44px;border-radius:50%;background:#e4f1fe"></div>
<svg style="position:absolute;left:876px;top:553.6px;overflow:visible" width="22" height="22" viewBox="0 0 24 24" fill="none" stroke="#55a4fd" stroke-width="1.9" stroke-linecap="round" stroke-linejoin="round" ><path d="M12 2l10 6.5v7L12 22 2 15.5v-7z"/><path d="M12 22v-6.5M22 8.5l-10 7-10-7M2 15.5l10-7 10 7M12 2v6.5"/></svg>
<div style="position:absolute;left:917px;top:551.18px;width:313px;height:30px;overflow:hidden;white-space:nowrap;font-size:26px;line-height:26px;color:#1f80f1;letter-spacing:-0.2px">FILLING UNIT WEIGHING</div>
<div style="position:absolute;left:1251px;top:546.6px;width:108px;height:37px;background:#defbd8;border-radius:5px"></div>
<svg style="position:absolute;left:1264px;top:555.6px;overflow:visible" width="19" height="19" viewBox="0 0 19 19" fill="none" stroke="#22911a" stroke-width="2" stroke-linecap="round" stroke-linejoin="round" ><circle cx="9.5" cy="9.5" r="8.2"/><path d="M6 9.8l2.5 2.5 4.5-5"/></svg>
<div class="t" style="left:1291.50px;top:553.86px;font-size:22px;color:#22911a;font-weight:400;letter-spacing:0.3px;-webkit-text-stroke:0.25px;">Done</div>
<div style="position:absolute;left:1575px;top:546.6px;width:108px;height:37px;background:#e0920d;border-radius:5px"></div>
<div class="t" style="left:1587.00px;top:553.86px;font-size:22px;color:#fff;font-weight:400;letter-spacing:0.55px;-webkit-text-stroke:0.3px #fff;">Medium</div>
<div style="position:absolute;left:1899px;top:546.6px;width:108px;height:37px;background:#edf4fe;border-radius:5px"></div>
<div class="t" style="left:1910.80px;top:553.86px;font-size:22px;color:#3a83ef;font-weight:400;letter-spacing:0.65px;-webkit-text-stroke:0.3px;">Planned</div>
<div style="position:absolute;left:2309px;top:546.29px;width:35px;height:35px;border-radius:50%;background:#2388ff;color:#fff;font-size:22px;line-height:35px;text-align:center">M</div>
<div class="t" style="left:2357.00px;top:551.18px;font-size:26px;color:#2b2e33;font-weight:400;letter-spacing:-0.55px;">MECHANIC</div>
<div style="position:absolute;left:33px;top:652px;width:2527px;height:1.2px;background:#e4e8ed"></div>
<div style="position:absolute;left:52px;top:608px;width:29px;height:29px;box-sizing:border-box;border:2px solid #d7dde5;border-radius:5px;background:#fff"></div>
<div class="t" style="left:123.00px;top:610.11px;font-size:26px;color:#1f80f1;font-weight:400;letter-spacing:1.8px;">4321</div>
<div style="position:absolute;left:265px;top:601.72px;width:43.4px;height:43.4px;box-sizing:border-box;border:1.6px solid #e1e6eb;border-radius:50%;background:#fff"></div>
<svg style="position:absolute;left:278.3px;top:612.4px;overflow:visible" width="17.5" height="22" viewBox="0 0 17.5 22" fill="none" stroke="#5aa8ff" stroke-width="1.7" stroke-linecap="round" stroke-linejoin="round" ><rect x="0.9" y="0.9" width="15.7" height="20.2" stroke-linejoin="miter"/><path d="M4.6 5.8h8.3M4.6 9.8h8.3" stroke-linecap="butt"/><path d="M0.9 14.3h4.6a3.25 3.25 0 0 0 6.5 0h4.6" stroke-linecap="butt"/></svg>
<div class="t" style="left:315.70px;top:610.11px;font-size:26px;color:#1f80f1;font-weight:400;letter-spacing:-0.39px;width:520px;overflow:hidden;">FUSEL OIL PUMP 1 FOR VAPOR MOLEC...</div>
<div style="position:absolute;left:865px;top:601.72px;width:44px;height:44px;border-radius:50%;background:#e4f1fe"></div>
<svg style="position:absolute;left:876px;top:612.5px;overflow:visible" width="22" height="22" viewBox="0 0 24 24" fill="none" stroke="#55a4fd" stroke-width="1.9" stroke-linecap="round" stroke-linejoin="round" ><path d="M12 2l10 6.5v7L12 22 2 15.5v-7z"/><path d="M12 22v-6.5M22 8.5l-10 7-10-7M2 15.5l10-7 10 7M12 2v6.5"/></svg>
<div style="position:absolute;left:917px;top:610.11px;width:313px;height:30px;overflow:hidden;white-space:nowrap;font-size:26px;line-height:26px;color:#1f80f1;letter-spacing:-0.07px">DUCKBILL HANDLING...</div>
<div style="position:absolute;left:1251px;top:605.5px;width:172px;height:37px;background:#d6e9fd;border-radius:5px"></div>
<svg style="position:absolute;left:1264px;top:614.5px;overflow:visible" width="19" height="19" viewBox="0 0 19 19" fill="none" stroke="#0f6fdc" stroke-width="2" stroke-linecap="round" stroke-linejoin="round" ><path d="M16.2 4.2A8.6 8.6 0 1 0 16.2 14.8"/><path d="M9.6 9.5h8.2"/><path d="M15.4 7.1l2.4 2.4-2.4 2.4" stroke-width="1.8"/></svg>
<div class="t" style="left:1291.50px;top:612.79px;font-size:22px;color:#0f6fdc;font-weight:400;letter-spacing:0.3px;-webkit-text-stroke:0.25px;">In Progress</div>
<div style="position:absolute;left:1575px;top:605.5px;width:72px;height:37px;background:#ee4346;border-radius:5px"></div>
<div class="t" style="left:1587.00px;top:612.79px;font-size:22px;color:#fff;font-weight:400;letter-spacing:0.55px;-webkit-text-stroke:0.3px #fff;">High</div>
<div style="position:absolute;left:1899px;top:605.5px;width:136px;height:37px;background:#f5ebfe;border-radius:5px"></div>
<div class="t" style="left:1910.80px;top:612.79px;font-size:22px;color:#a449ea;font-weight:400;letter-spacing:0.65px;-webkit-text-stroke:0.3px;">Scheduled</div>
<div style="position:absolute;left:2309px;top:605.22px;width:35px;height:35px;border-radius:50%;background:#2388ff;color:#fff;font-size:22px;line-height:35px;text-align:center">I</div>
<div class="t" style="left:2357.00px;top:610.11px;font-size:26px;color:#2b2e33;font-weight:400;letter-spacing:-0.55px;">INSTRUMEN...</div>
<div style="position:absolute;left:33px;top:653px;width:2527px;height:59px;background:#f9fafc"></div>
<div style="position:absolute;left:33px;top:711px;width:2527px;height:1.2px;background:#e4e8ed"></div>
<div style="position:absolute;left:52px;top:667px;width:29px;height:29px;box-sizing:border-box;border:2px solid #d7dde5;border-radius:5px;background:#fff"></div>
<div class="t" style="left:123.00px;top:669.04px;font-size:26px;color:#1f80f1;font-weight:400;letter-spacing:1.8px;">4386</div>
<div style="position:absolute;left:265px;top:660.64px;width:43.4px;height:43.4px;box-sizing:border-box;border:1.6px solid #e1e6eb;border-radius:50%;background:#fff"></div>
<svg style="position:absolute;left:278.3px;top:671.3px;overflow:visible" width="17.5" height="22" viewBox="0 0 17.5 22" fill="none" stroke="#5aa8ff" stroke-width="1.7" stroke-linecap="round" stroke-linejoin="round" ><rect x="0.9" y="0.9" width="15.7" height="20.2" stroke-linejoin="miter"/><path d="M4.6 5.8h8.3M4.6 9.8h8.3" stroke-linecap="butt"/><path d="M0.9 14.3h4.6a3.25 3.25 0 0 0 6.5 0h4.6" stroke-linecap="butt"/></svg>
<div class="t" style="left:315.70px;top:669.04px;font-size:26px;color:#1f80f1;font-weight:400;letter-spacing:-0.7px;width:520px;overflow:hidden;">ROTARY VALVE INVERTER 12</div>
<div style="position:absolute;left:865px;top:660.64px;width:44px;height:44px;border-radius:50%;background:#e4f1fe"></div>
<svg style="position:absolute;left:876px;top:671.4px;overflow:visible" width="22" height="22" viewBox="0 0 24 24" fill="none" stroke="#55a4fd" stroke-width="1.9" stroke-linecap="round" stroke-linejoin="round" ><path d="M12 2l10 6.5v7L12 22 2 15.5v-7z"/><path d="M12 22v-6.5M22 8.5l-10 7-10-7M2 15.5l10-7 10 7M12 2v6.5"/></svg>
<div style="position:absolute;left:917px;top:669.04px;width:313px;height:30px;overflow:hidden;white-space:nowrap;font-size:26px;line-height:26px;color:#1f80f1;letter-spacing:0.33px">MOTOR AG-4346M01 L.A</div>
<div style="position:absolute;left:1251px;top:664.4px;width:109px;height:37px;background:#e6f2fe;border-radius:5px"></div>
<svg style="position:absolute;left:1264px;top:673.4px;overflow:visible" width="19" height="19" viewBox="0 0 19 19" fill="none" stroke="#1a84ff" stroke-width="2" stroke-linecap="round" stroke-linejoin="round" ><path d="M5 8.2V3.4a2 2 0 0 1 2-2h5a2 2 0 0 1 2 2v1.4"/><rect x="2.6" y="8.6" width="13" height="8"/><path d="M9.1 11.6v2" stroke-width="1.6"/></svg>
<div class="t" style="left:1291.50px;top:671.72px;font-size:22px;color:#1a84ff;font-weight:400;letter-spacing:0.3px;-webkit-text-stroke:0.25px;">Open</div>
<div style="position:absolute;left:1575px;top:664.4px;width:108px;height:37px;background:#e0920d;border-radius:5px"></div>
<div class="t" style="left:1587.00px;top:671.72px;font-size:22px;color:#fff;font-weight:400;letter-spacing:0.55px;-webkit-text-stroke:0.3px #fff;">Medium</div>
<div style="position:absolute;left:1899px;top:664.4px;width:136px;height:37px;background:#f5ebfe;border-radius:5px"></div>
<div class="t" style="left:1910.80px;top:671.72px;font-size:22px;color:#a449ea;font-weight:400;letter-spacing:0.65px;-webkit-text-stroke:0.3px;">Scheduled</div>
<div style="position:absolute;left:2309px;top:664.14px;width:35px;height:35px;border-radius:50%;background:#2388ff;color:#fff;font-size:22px;line-height:35px;text-align:center">M</div>
<div class="t" style="left:2357.00px;top:669.04px;font-size:26px;color:#2b2e33;font-weight:400;letter-spacing:-0.55px;">MECHANIC</div>
<div style="position:absolute;left:33px;top:769px;width:2527px;height:1.2px;background:#e4e8ed"></div>
<div style="position:absolute;left:52px;top:726px;width:29px;height:29px;box-sizing:border-box;border:2px solid #d7dde5;border-radius:5px;background:#fff"></div>
<div class="t" style="left:123.00px;top:727.97px;font-size:26px;color:#1f80f1;font-weight:400;letter-spacing:1.8px;">2763</div>
<div style="position:absolute;left:265px;top:719.58px;width:43.4px;height:43.4px;box-sizing:border-box;border:1.6px solid #e1e6eb;border-radius:50%;background:#fff"></div>
<svg style="position:absolute;left:278.3px;top:730.3px;overflow:visible" width="17.5" height="22" viewBox="0 0 17.5 22" fill="none" stroke="#5aa8ff" stroke-width="1.7" stroke-linecap="round" stroke-linejoin="round" ><rect x="0.9" y="0.9" width="15.7" height="20.2" stroke-linejoin="miter"/><path d="M4.6 5.8h8.3M4.6 9.8h8.3" stroke-linecap="butt"/><path d="M0.9 14.3h4.6a3.25 3.25 0 0 0 6.5 0h4.6" stroke-linecap="butt"/></svg>
<div class="t" style="left:315.70px;top:727.97px;font-size:26px;color:#1f80f1;font-weight:400;letter-spacing:0.68px;width:520px;overflow:hidden;">Electric Motor PM</div>
<div style="position:absolute;left:865px;top:719.58px;width:44px;height:44px;border-radius:50%;background:#e4f1fe"></div>
<svg style="position:absolute;left:876px;top:730.4px;overflow:visible" width="22" height="22" viewBox="0 0 24 24" fill="none" stroke="#55a4fd" stroke-width="1.9" stroke-linecap="round" stroke-linejoin="round" ><path d="M12 2l10 6.5v7L12 22 2 15.5v-7z"/><path d="M12 22v-6.5M22 8.5l-10 7-10-7M2 15.5l10-7 10 7M12 2v6.5"/></svg>
<div style="position:absolute;left:917px;top:727.97px;width:313px;height:30px;overflow:hidden;white-space:nowrap;font-size:26px;line-height:26px;color:#1f80f1;letter-spacing:0.05px">ENGINE - 05</div>
<div style="position:absolute;left:1251px;top:723.4px;width:172px;height:37px;background:#d6e9fd;border-radius:5px"></div>
<svg style="position:absolute;left:1264px;top:732.4px;overflow:visible" width="19" height="19" viewBox="0 0 19 19" fill="none" stroke="#0f6fdc" stroke-width="2" stroke-linecap="round" stroke-linejoin="round" ><path d="M16.2 4.2A8.6 8.6 0 1 0 16.2 14.8"/><path d="M9.6 9.5h8.2"/><path d="M15.4 7.1l2.4 2.4-2.4 2.4" stroke-width="1.8"/></svg>
<div class="t" style="left:1291.50px;top:730.65px;font-size:22px;color:#0f6fdc;font-weight:400;letter-spacing:0.3px;-webkit-text-stroke:0.25px;">In Progress</div>
<div style="position:absolute;left:1575px;top:723.4px;width:108px;height:37px;background:#e0920d;border-radius:5px"></div>
<div class="t" style="left:1587.00px;top:730.65px;font-size:22px;color:#fff;font-weight:400;letter-spacing:0.55px;-webkit-text-stroke:0.3px #fff;">Medium</div>
<div style="position:absolute;left:1899px;top:723.4px;width:136px;height:37px;background:#f5ebfe;border-radius:5px"></div>
<div class="t" style="left:1910.80px;top:730.65px;font-size:22px;color:#a449ea;font-weight:400;letter-spacing:0.65px;-webkit-text-stroke:0.3px;">Scheduled</div>
<div style="position:absolute;left:2309px;top:723.08px;width:35px;height:35px;border-radius:50%;background:#2388ff;color:#fff;font-size:22px;line-height:35px;text-align:center">M</div>
<div class="t" style="left:2357.00px;top:727.97px;font-size:26px;color:#2b2e33;font-weight:400;letter-spacing:0.45px;">Maintenance</div>
<div style="position:absolute;left:33px;top:770px;width:2527px;height:59px;background:#f9fafc"></div>
<div style="position:absolute;left:33px;top:828px;width:2527px;height:1.2px;background:#e4e8ed"></div>
<div style="position:absolute;left:52px;top:785px;width:29px;height:29px;box-sizing:border-box;border:2px solid #d7dde5;border-radius:5px;background:#fff"></div>
<div class="t" style="left:123.00px;top:786.90px;font-size:26px;color:#1f80f1;font-weight:400;letter-spacing:1.8px;">2926</div>
<div style="position:absolute;left:265px;top:778.51px;width:43.4px;height:43.4px;box-sizing:border-box;border:1.6px solid #e1e6eb;border-radius:50%;background:#fff"></div>
<svg style="position:absolute;left:278.3px;top:789.2px;overflow:visible" width="17.5" height="22" viewBox="0 0 17.5 22" fill="none" stroke="#5aa8ff" stroke-width="1.7" stroke-linecap="round" stroke-linejoin="round" ><rect x="0.9" y="0.9" width="15.7" height="20.2" stroke-linejoin="miter"/><path d="M4.6 5.8h8.3M4.6 9.8h8.3" stroke-linecap="butt"/><path d="M0.9 14.3h4.6a3.25 3.25 0 0 0 6.5 0h4.6" stroke-linecap="butt"/></svg>
<div class="t" style="left:315.70px;top:786.90px;font-size:26px;color:#1f80f1;font-weight:400;letter-spacing:-0.55px;width:520px;overflow:hidden;">UPPER LEVEL TRANSMITTER</div>
<div style="position:absolute;left:865px;top:778.51px;width:44px;height:44px;border-radius:50%;background:#e4f1fe"></div>
<svg style="position:absolute;left:876px;top:789.3px;overflow:visible" width="22" height="22" viewBox="0 0 24 24" fill="none" stroke="#55a4fd" stroke-width="1.9" stroke-linecap="round" stroke-linejoin="round" ><path d="M12 2l10 6.5v7L12 22 2 15.5v-7z"/><path d="M12 22v-6.5M22 8.5l-10 7-10-7M2 15.5l10-7 10 7M12 2v6.5"/></svg>
<div style="position:absolute;left:917px;top:786.90px;width:313px;height:30px;overflow:hidden;white-space:nowrap;font-size:26px;line-height:26px;color:#1f80f1;letter-spacing:0.0px">WATER PUMP 02 - CISTERN</div>
<div style="position:absolute;left:1251px;top:782.3px;width:172px;height:37px;background:#d6e9fd;border-radius:5px"></div>
<svg style="position:absolute;left:1264px;top:791.3px;overflow:visible" width="19" height="19" viewBox="0 0 19 19" fill="none" stroke="#0f6fdc" stroke-width="2" stroke-linecap="round" stroke-linejoin="round" ><path d="M16.2 4.2A8.6 8.6 0 1 0 16.2 14.8"/><path d="M9.6 9.5h8.2"/><path d="M15.4 7.1l2.4 2.4-2.4 2.4" stroke-width="1.8"/></svg>
<div class="t" style="left:1291.50px;top:789.58px;font-size:22px;color:#0f6fdc;font-weight:400;letter-spacing:0.3px;-webkit-text-stroke:0.25px;">In Progress</div>
<div style="position:absolute;left:1575px;top:782.3px;width:66px;height:37px;background:#3aa82a;border-radius:5px"></div>
<div class="t" style="left:1587.00px;top:789.58px;font-size:22px;color:#fff;font-weight:400;letter-spacing:0.55px;-webkit-text-stroke:0.3px #fff;">Low</div>
<div style="position:absolute;left:1899px;top:782.3px;width:108px;height:37px;background:#edf4fe;border-radius:5px"></div>
<div class="t" style="left:1910.80px;top:789.58px;font-size:22px;color:#3a83ef;font-weight:400;letter-spacing:0.65px;-webkit-text-stroke:0.3px;">Planned</div>
<div style="position:absolute;left:2309px;top:782.01px;width:35px;height:35px;border-radius:50%;background:#2388ff;color:#fff;font-size:22px;line-height:35px;text-align:center">I</div>
<div class="t" style="left:2357.00px;top:786.90px;font-size:26px;color:#2b2e33;font-weight:400;letter-spacing:-0.55px;">INSTRUMEN...</div>
<div style="position:absolute;left:33px;top:887px;width:2527px;height:1.2px;background:#e4e8ed"></div>
<div style="position:absolute;left:52px;top:844px;width:29px;height:29px;box-sizing:border-box;border:2px solid #d7dde5;border-radius:5px;background:#fff"></div>
<div class="t" style="left:123.00px;top:845.83px;font-size:26px;color:#1f80f1;font-weight:400;letter-spacing:1.8px;">3285</div>
<div style="position:absolute;left:265px;top:837.44px;width:43.4px;height:43.4px;box-sizing:border-box;border:1.6px solid #e1e6eb;border-radius:50%;background:#fff"></div>
<svg style="position:absolute;left:278.3px;top:848.1px;overflow:visible" width="17.5" height="22" viewBox="0 0 17.5 22" fill="none" stroke="#5aa8ff" stroke-width="1.7" stroke-linecap="round" stroke-linejoin="round" ><rect x="0.9" y="0.9" width="15.7" height="20.2" stroke-linejoin="miter"/><path d="M4.6 5.8h8.3M4.6 9.8h8.3" stroke-linecap="butt"/><path d="M0.9 14.3h4.6a3.25 3.25 0 0 0 6.5 0h4.6" stroke-linecap="butt"/></svg>
<div class="t" style="left:315.70px;top:845.83px;font-size:26px;color:#1f80f1;font-weight:400;letter-spacing:-0.45px;width:520px;overflow:hidden;">CORN CONVEYOR BELT CT-1 SUPPLIE...</div>
<div style="position:absolute;left:865px;top:837.44px;width:44px;height:44px;border-radius:50%;background:#e4f1fe"></div>
<svg style="position:absolute;left:876px;top:848.2px;overflow:visible" width="22" height="22" viewBox="0 0 24 24" fill="none" stroke="#55a4fd" stroke-width="1.9" stroke-linecap="round" stroke-linejoin="round" ><path d="M12 2l10 6.5v7L12 22 2 15.5v-7z"/><path d="M12 22v-6.5M22 8.5l-10 7-10-7M2 15.5l10-7 10 7M12 2v6.5"/></svg>
<div style="position:absolute;left:917px;top:845.83px;width:313px;height:30px;overflow:hidden;white-space:nowrap;font-size:26px;line-height:26px;color:#1f80f1;letter-spacing:-0.47px">LOW COMPRESSOR -...</div>
<div style="position:absolute;left:1251px;top:841.2px;width:109px;height:37px;background:#e6f2fe;border-radius:5px"></div>
<svg style="position:absolute;left:1264px;top:850.2px;overflow:visible" width="19" height="19" viewBox="0 0 19 19" fill="none" stroke="#1a84ff" stroke-width="2" stroke-linecap="round" stroke-linejoin="round" ><path d="M5 8.2V3.4a2 2 0 0 1 2-2h5a2 2 0 0 1 2 2v1.4"/><rect x="2.6" y="8.6" width="13" height="8"/><path d="M9.1 11.6v2" stroke-width="1.6"/></svg>
<div class="t" style="left:1291.50px;top:848.51px;font-size:22px;color:#1a84ff;font-weight:400;letter-spacing:0.3px;-webkit-text-stroke:0.25px;">Open</div>
<div style="position:absolute;left:1575px;top:841.2px;width:72px;height:37px;background:#ee4346;border-radius:5px"></div>
<div class="t" style="left:1587.00px;top:848.51px;font-size:22px;color:#fff;font-weight:400;letter-spacing:0.55px;-webkit-text-stroke:0.3px #fff;">High</div>
<div style="position:absolute;left:1899px;top:841.2px;width:108px;height:37px;background:#edf4fe;border-radius:5px"></div>
<div class="t" style="left:1910.80px;top:848.51px;font-size:22px;color:#3a83ef;font-weight:400;letter-spacing:0.65px;-webkit-text-stroke:0.3px;">Planned</div>
<div style="position:absolute;left:2309px;top:840.94px;width:35px;height:35px;border-radius:50%;background:#2388ff;color:#fff;font-size:22px;line-height:35px;text-align:center">B</div>
<div class="t" style="left:2357.00px;top:845.83px;font-size:26px;color:#2b2e33;font-weight:400;letter-spacing:-0.55px;">BOILERMAKING</div>
<div style="position:absolute;left:33px;top:888px;width:2527px;height:59px;background:#f9fafc"></div>
<div style="position:absolute;left:33px;top:946px;width:2527px;height:1.2px;background:#e4e8ed"></div>
<div style="position:absolute;left:52px;top:903px;width:29px;height:29px;box-sizing:border-box;border:2px solid #d7dde5;border-radius:5px;background:#fff"></div>
<div class="t" style="left:123.00px;top:904.76px;font-size:26px;color:#1f80f1;font-weight:400;letter-spacing:1.8px;">3968</div>
<div style="position:absolute;left:265px;top:896.37px;width:43.4px;height:43.4px;box-sizing:border-box;border:1.6px solid #e1e6eb;border-radius:50%;background:#fff"></div>
<svg style="position:absolute;left:278.3px;top:907.1px;overflow:visible" width="17.5" height="22" viewBox="0 0 17.5 22" fill="none" stroke="#5aa8ff" stroke-width="1.7" stroke-linecap="round" stroke-linejoin="round" ><rect x="0.9" y="0.9" width="15.7" height="20.2" stroke-linejoin="miter"/><path d="M4.6 5.8h8.3M4.6 9.8h8.3" stroke-linecap="butt"/><path d="M0.9 14.3h4.6a3.25 3.25 0 0 0 6.5 0h4.6" stroke-linecap="butt"/></svg>
<div class="t" style="left:315.70px;top:904.76px;font-size:26px;color:#1f80f1;font-weight:400;letter-spacing:-0.5px;width:520px;overflow:hidden;">CONDENSATE PIPE OF GENERAL VAPO...</div>
<div style="position:absolute;left:865px;top:896.37px;width:44px;height:44px;border-radius:50%;background:#e4f1fe"></div>
<svg style="position:absolute;left:876px;top:907.2px;overflow:visible" width="22" height="22" viewBox="0 0 24 24" fill="none" stroke="#55a4fd" stroke-width="1.9" stroke-linecap="round" stroke-linejoin="round" ><path d="M12 2l10 6.5v7L12 22 2 15.5v-7z"/><path d="M12 22v-6.5M22 8.5l-10 7-10-7M2 15.5l10-7 10 7M12 2v6.5"/></svg>
<div style="position:absolute;left:917px;top:904.76px;width:313px;height:30px;overflow:hidden;white-space:nowrap;font-size:26px;line-height:26px;color:#1f80f1;letter-spacing:-0.84px">GEARBOX...</div>
<div style="position:absolute;left:1251px;top:900.2px;width:138px;height:37px;background:#ffedd9;border-radius:5px"></div>
<svg style="position:absolute;left:1264px;top:909.2px;overflow:visible" width="19" height="19" viewBox="0 0 19 19" fill="none" stroke="#e8660c" stroke-width="2" stroke-linecap="round" stroke-linejoin="round" ><circle cx="9.5" cy="9.5" r="8.2"/><path d="M7.6 7v4.6M11.4 7v4.6" stroke-width="1.7"/></svg>
<div class="t" style="left:1291.50px;top:907.44px;font-size:22px;color:#e8660c;font-weight:400;letter-spacing:0.3px;-webkit-text-stroke:0.25px;">On Hold</div>
<div style="position:absolute;left:1575px;top:900.2px;width:66px;height:37px;background:#3aa82a;border-radius:5px"></div>
<div class="t" style="left:1587.00px;top:907.44px;font-size:22px;color:#fff;font-weight:400;letter-spacing:0.55px;-webkit-text-stroke:0.3px #fff;">Low</div>
<div style="position:absolute;left:1899px;top:900.2px;width:136px;height:37px;background:#f5ebfe;border-radius:5px"></div>
<div class="t" style="left:1910.80px;top:907.44px;font-size:22px;color:#a449ea;font-weight:400;letter-spacing:0.65px;-webkit-text-stroke:0.3px;">Scheduled</div>
<div style="position:absolute;left:2309px;top:899.87px;width:35px;height:35px;border-radius:50%;background:#2388ff;color:#fff;font-size:22px;line-height:35px;text-align:center">M</div>
<div class="t" style="left:2357.00px;top:904.76px;font-size:26px;color:#2b2e33;font-weight:400;letter-spacing:-0.55px;">MECHANIC</div>
<div style="position:absolute;left:33px;top:1005px;width:2527px;height:1.2px;background:#e4e8ed"></div>
<div style="position:absolute;left:52px;top:962px;width:29px;height:29px;box-sizing:border-box;border:2px solid #d7dde5;border-radius:5px;background:#fff"></div>
<div class="t" style="left:123.00px;top:963.69px;font-size:26px;color:#1f80f1;font-weight:400;letter-spacing:1.8px;">2158</div>
<div style="position:absolute;left:265px;top:955.30px;width:43.4px;height:43.4px;box-sizing:border-box;border:1.6px solid #e1e6eb;border-radius:50%;background:#fff"></div>
<svg style="position:absolute;left:278.3px;top:966.0px;overflow:visible" width="17.5" height="22" viewBox="0 0 17.5 22" fill="none" stroke="#5aa8ff" stroke-width="1.7" stroke-linecap="round" stroke-linejoin="round" ><rect x="0.9" y="0.9" width="15.7" height="20.2" stroke-linejoin="miter"/><path d="M4.6 5.8h8.3M4.6 9.8h8.3" stroke-linecap="butt"/><path d="M0.9 14.3h4.6a3.25 3.25 0 0 0 6.5 0h4.6" stroke-linecap="butt"/></svg>
<div class="t" style="left:315.70px;top:963.69px;font-size:26px;color:#1f80f1;font-weight:400;letter-spacing:-0.05px;width:520px;overflow:hidden;">&nbsp;1S-G10-SENS-ROLLERS 2A (ROUTE 40)</div>
<div style="position:absolute;left:865px;top:955.30px;width:44px;height:44px;border-radius:50%;background:#e4f1fe"></div>
<svg style="position:absolute;left:876px;top:966.1px;overflow:visible" width="22" height="22" viewBox="0 0 24 24" fill="none" stroke="#55a4fd" stroke-width="1.9" stroke-linecap="round" stroke-linejoin="round" ><path d="M12 2l10 6.5v7L12 22 2 15.5v-7z"/><path d="M12 22v-6.5M22 8.5l-10 7-10-7M2 15.5l10-7 10 7M12 2v6.5"/></svg>
<div style="position:absolute;left:917px;top:963.69px;width:313px;height:30px;overflow:hidden;white-space:nowrap;font-size:26px;line-height:26px;color:#1f80f1;letter-spacing:0.04px">AGITATOR AG-234RE03</div>
<div style="position:absolute;left:1251px;top:959.1px;width:109px;height:37px;background:#e6f2fe;border-radius:5px"></div>
<svg style="position:absolute;left:1264px;top:968.1px;overflow:visible" width="19" height="19" viewBox="0 0 19 19" fill="none" stroke="#1a84ff" stroke-width="2" stroke-linecap="round" stroke-linejoin="round" ><path d="M5 8.2V3.4a2 2 0 0 1 2-2h5a2 2 0 0 1 2 2v1.4"/><rect x="2.6" y="8.6" width="13" height="8"/><path d="M9.1 11.6v2" stroke-width="1.6"/></svg>
<div class="t" style="left:1291.50px;top:966.37px;font-size:22px;color:#1a84ff;font-weight:400;letter-spacing:0.3px;-webkit-text-stroke:0.25px;">Open</div>
<div style="position:absolute;left:1575px;top:959.1px;width:72px;height:37px;background:#ee4346;border-radius:5px"></div>
<div class="t" style="left:1587.00px;top:966.37px;font-size:22px;color:#fff;font-weight:400;letter-spacing:0.55px;-webkit-text-stroke:0.3px #fff;">High</div>
<div style="position:absolute;left:1899px;top:959.1px;width:108px;height:37px;background:#edf4fe;border-radius:5px"></div>
<div class="t" style="left:1910.80px;top:966.37px;font-size:22px;color:#3a83ef;font-weight:400;letter-spacing:0.65px;-webkit-text-stroke:0.3px;">Planned</div>
<div style="position:absolute;left:2309px;top:958.80px;width:35px;height:35px;border-radius:50%;background:#2388ff;color:#fff;font-size:22px;line-height:35px;text-align:center">M</div>
<div class="t" style="left:2357.00px;top:963.69px;font-size:26px;color:#2b2e33;font-weight:400;letter-spacing:0.45px;">Maintenance</div>
<div style="position:absolute;left:33px;top:1006px;width:2527px;height:59px;background:#f9fafc"></div>
<div style="position:absolute;left:33px;top:1064px;width:2527px;height:1.2px;background:#e4e8ed"></div>
<div style="position:absolute;left:52px;top:1021px;width:29px;height:29px;box-sizing:border-box;border:2px solid #d7dde5;border-radius:5px;background:#fff"></div>
<div class="t" style="left:123.00px;top:1022.62px;font-size:26px;color:#1f80f1;font-weight:400;letter-spacing:1.8px;">2641</div>
<div style="position:absolute;left:265px;top:1014.22px;width:43.4px;height:43.4px;box-sizing:border-box;border:1.6px solid #e1e6eb;border-radius:50%;background:#fff"></div>
<svg style="position:absolute;left:278.3px;top:1024.9px;overflow:visible" width="17.5" height="22" viewBox="0 0 17.5 22" fill="none" stroke="#5aa8ff" stroke-width="1.7" stroke-linecap="round" stroke-linejoin="round" ><rect x="0.9" y="0.9" width="15.7" height="20.2" stroke-linejoin="miter"/><path d="M4.6 5.8h8.3M4.6 9.8h8.3" stroke-linecap="butt"/><path d="M0.9 14.3h4.6a3.25 3.25 0 0 0 6.5 0h4.6" stroke-linecap="butt"/></svg>
<div class="t" style="left:315.70px;top:1022.62px;font-size:26px;color:#1f80f1;font-weight:400;letter-spacing:0.75px;width:520px;overflow:hidden;">Pumps/Gearboxes [6/8]</div>
<div style="position:absolute;left:865px;top:1014.22px;width:44px;height:44px;border-radius:50%;background:#e4f1fe"></div>
<svg style="position:absolute;left:876px;top:1025.0px;overflow:visible" width="22" height="22" viewBox="0 0 24 24" fill="none" stroke="#55a4fd" stroke-width="1.9" stroke-linecap="round" stroke-linejoin="round" ><path d="M12 2l10 6.5v7L12 22 2 15.5v-7z"/><path d="M12 22v-6.5M22 8.5l-10 7-10-7M2 15.5l10-7 10 7M12 2v6.5"/></svg>
<div style="position:absolute;left:917px;top:1022.62px;width:313px;height:30px;overflow:hidden;white-space:nowrap;font-size:26px;line-height:26px;color:#1f80f1;letter-spacing:-0.15px">INF. ROLL...</div>
<div style="position:absolute;left:1251px;top:1018.0px;width:138px;height:37px;background:#ffedd9;border-radius:5px"></div>
<svg style="position:absolute;left:1264px;top:1027.0px;overflow:visible" width="19" height="19" viewBox="0 0 19 19" fill="none" stroke="#e8660c" stroke-width="2" stroke-linecap="round" stroke-linejoin="round" ><circle cx="9.5" cy="9.5" r="8.2"/><path d="M7.6 7v4.6M11.4 7v4.6" stroke-width="1.7"/></svg>
<div class="t" style="left:1291.50px;top:1025.30px;font-size:22px;color:#e8660c;font-weight:400;letter-spacing:0.3px;-webkit-text-stroke:0.25px;">On Hold</div>
<div style="position:absolute;left:1575px;top:1018.0px;width:72px;height:37px;background:#ee4346;border-radius:5px"></div>
<div class="t" style="left:1587.00px;top:1025.30px;font-size:22px;color:#fff;font-weight:400;letter-spacing:0.55px;-webkit-text-stroke:0.3px #fff;">High</div>
<div style="position:absolute;left:1899px;top:1018.0px;width:108px;height:37px;background:#edf4fe;border-radius:5px"></div>
<div class="t" style="left:1910.80px;top:1025.30px;font-size:22px;color:#3a83ef;font-weight:400;letter-spacing:0.65px;-webkit-text-stroke:0.3px;">Planned</div>
<div style="position:absolute;left:2309px;top:1017.72px;width:35px;height:35px;border-radius:50%;background:#2388ff;color:#fff;font-size:22px;line-height:35px;text-align:center">I</div>
<div class="t" style="left:2357.00px;top:1022.62px;font-size:26px;color:#2b2e33;font-weight:400;letter-spacing:-0.55px;">INSTRUMEN...</div>
<div style="position:absolute;left:33px;top:1123px;width:2527px;height:1.2px;background:#e4e8ed"></div>
<div style="position:absolute;left:52px;top:1080px;width:29px;height:29px;box-sizing:border-box;border:2px solid #d7dde5;border-radius:5px;background:#fff"></div>
<div class="t" style="left:123.00px;top:1081.55px;font-size:26px;color:#1f80f1;font-weight:400;letter-spacing:1.8px;">2579</div>
<div style="position:absolute;left:265px;top:1073.15px;width:43.4px;height:43.4px;box-sizing:border-box;border:1.6px solid #e1e6eb;border-radius:50%;background:#fff"></div>
<svg style="position:absolute;left:278.3px;top:1083.9px;overflow:visible" width="17.5" height="22" viewBox="0 0 17.5 22" fill="none" stroke="#5aa8ff" stroke-width="1.7" stroke-linecap="round" stroke-linejoin="round" ><rect x="0.9" y="0.9" width="15.7" height="20.2" stroke-linejoin="miter"/><path d="M4.6 5.8h8.3M4.6 9.8h8.3" stroke-linecap="butt"/><path d="M0.9 14.3h4.6a3.25 3.25 0 0 0 6.5 0h4.6" stroke-linecap="butt"/></svg>
<div class="t" style="left:315.70px;top:1081.55px;font-size:26px;color:#1f80f1;font-weight:400;letter-spacing:-0.39px;width:520px;overflow:hidden;">FUSEL OIL PUMP 1 FOR VAPOR MOLEC...</div>
<div style="position:absolute;left:865px;top:1073.15px;width:44px;height:44px;border-radius:50%;background:#e4f1fe"></div>
<svg style="position:absolute;left:876px;top:1084.0px;overflow:visible" width="22" height="22" viewBox="0 0 24 24" fill="none" stroke="#55a4fd" stroke-width="1.9" stroke-linecap="round" stroke-linejoin="round" ><path d="M12 2l10 6.5v7L12 22 2 15.5v-7z"/><path d="M12 22v-6.5M22 8.5l-10 7-10-7M2 15.5l10-7 10 7M12 2v6.5"/></svg>
<div style="position:absolute;left:917px;top:1081.55px;width:313px;height:30px;overflow:hidden;white-space:nowrap;font-size:26px;line-height:26px;color:#1f80f1;letter-spacing:0.0px">HIGH COMPRESSOR - 02-AG</div>
<div style="position:absolute;left:1251px;top:1077.0px;width:172px;height:37px;background:#d6e9fd;border-radius:5px"></div>
<svg style="position:absolute;left:1264px;top:1086.0px;overflow:visible" width="19" height="19" viewBox="0 0 19 19" fill="none" stroke="#0f6fdc" stroke-width="2" stroke-linecap="round" stroke-linejoin="round" ><path d="M16.2 4.2A8.6 8.6 0 1 0 16.2 14.8"/><path d="M9.6 9.5h8.2"/><path d="M15.4 7.1l2.4 2.4-2.4 2.4" stroke-width="1.8"/></svg>
<div class="t" style="left:1291.50px;top:1084.23px;font-size:22px;color:#0f6fdc;font-weight:400;letter-spacing:0.3px;-webkit-text-stroke:0.25px;">In Progress</div>
<div style="position:absolute;left:1575px;top:1077.0px;width:66px;height:37px;background:#3aa82a;border-radius:5px"></div>
<div class="t" style="left:1587.00px;top:1084.23px;font-size:22px;color:#fff;font-weight:400;letter-spacing:0.55px;-webkit-text-stroke:0.3px #fff;">Low</div>
<div style="position:absolute;left:1899px;top:1077.0px;width:136px;height:37px;background:#f5ebfe;border-radius:5px"></div>
<div class="t" style="left:1910.80px;top:1084.23px;font-size:22px;color:#a449ea;font-weight:400;letter-spacing:0.65px;-webkit-text-stroke:0.3px;">Scheduled</div>
<div style="position:absolute;left:2309px;top:1076.65px;width:35px;height:35px;border-radius:50%;background:#2388ff;color:#fff;font-size:22px;line-height:35px;text-align:center">L</div>
<div class="t" style="left:2357.00px;top:1081.55px;font-size:26px;color:#2b2e33;font-weight:400;letter-spacing:-0.55px;">LUBRICATIO...</div>
<div style="position:absolute;left:33px;top:1124px;width:2527px;height:59px;background:#f9fafc"></div>
<div style="position:absolute;left:33px;top:1182px;width:2527px;height:1.2px;background:#e4e8ed"></div>
<div style="position:absolute;left:52px;top:1139px;width:29px;height:29px;box-sizing:border-box;border:2px solid #d7dde5;border-radius:5px;background:#fff"></div>
<div class="t" style="left:123.00px;top:1140.48px;font-size:26px;color:#1f80f1;font-weight:400;letter-spacing:1.8px;">2469</div>
<div style="position:absolute;left:265px;top:1132.08px;width:43.4px;height:43.4px;box-sizing:border-box;border:1.6px solid #e1e6eb;border-radius:50%;background:#fff"></div>
<svg style="position:absolute;left:278.3px;top:1142.8px;overflow:visible" width="17.5" height="22" viewBox="0 0 17.5 22" fill="none" stroke="#5aa8ff" stroke-width="1.7" stroke-linecap="round" stroke-linejoin="round" ><rect x="0.9" y="0.9" width="15.7" height="20.2" stroke-linejoin="miter"/><path d="M4.6 5.8h8.3M4.6 9.8h8.3" stroke-linecap="butt"/><path d="M0.9 14.3h4.6a3.25 3.25 0 0 0 6.5 0h4.6" stroke-linecap="butt"/></svg>
<div class="t" style="left:315.70px;top:1140.48px;font-size:26px;color:#1f80f1;font-weight:400;letter-spacing:-0.45px;width:520px;overflow:hidden;">CORN CONVEYOR BELT CT-1 SUPPLIE...</div>
<div style="position:absolute;left:865px;top:1132.08px;width:44px;height:44px;border-radius:50%;background:#e4f1fe"></div>
<svg style="position:absolute;left:876px;top:1142.9px;overflow:visible" width="22" height="22" viewBox="0 0 24 24" fill="none" stroke="#55a4fd" stroke-width="1.9" stroke-linecap="round" stroke-linejoin="round" ><path d="M12 2l10 6.5v7L12 22 2 15.5v-7z"/><path d="M12 22v-6.5M22 8.5l-10 7-10-7M2 15.5l10-7 10 7M12 2v6.5"/></svg>
<div style="position:absolute;left:917px;top:1140.48px;width:313px;height:30px;overflow:hidden;white-space:nowrap;font-size:26px;line-height:26px;color:#1f80f1;letter-spacing:-0.52px">INCLINED CONVEYOR</div>
<div style="position:absolute;left:1251px;top:1135.9px;width:172px;height:37px;background:#d6e9fd;border-radius:5px"></div>
<svg style="position:absolute;left:1264px;top:1144.9px;overflow:visible" width="19" height="19" viewBox="0 0 19 19" fill="none" stroke="#0f6fdc" stroke-width="2" stroke-linecap="round" stroke-linejoin="round" ><path d="M16.2 4.2A8.6 8.6 0 1 0 16.2 14.8"/><path d="M9.6 9.5h8.2"/><path d="M15.4 7.1l2.4 2.4-2.4 2.4" stroke-width="1.8"/></svg>
<div class="t" style="left:1291.50px;top:1143.16px;font-size:22px;color:#0f6fdc;font-weight:400;letter-spacing:0.3px;-webkit-text-stroke:0.25px;">In Progress</div>
<div style="position:absolute;left:1575px;top:1135.9px;width:66px;height:37px;background:#3aa82a;border-radius:5px"></div>
<div class="t" style="left:1587.00px;top:1143.16px;font-size:22px;color:#fff;font-weight:400;letter-spacing:0.55px;-webkit-text-stroke:0.3px #fff;">Low</div>
<div style="position:absolute;left:1899px;top:1135.9px;width:136px;height:37px;background:#f5ebfe;border-radius:5px"></div>
<div class="t" style="left:1910.80px;top:1143.16px;font-size:22px;color:#a449ea;font-weight:400;letter-spacing:0.65px;-webkit-text-stroke:0.3px;">Scheduled</div>
<div style="position:absolute;left:2309px;top:1135.58px;width:35px;height:35px;border-radius:50%;background:#2388ff;color:#fff;font-size:22px;line-height:35px;text-align:center">B</div>
<div class="t" style="left:2357.00px;top:1140.48px;font-size:26px;color:#2b2e33;font-weight:400;letter-spacing:-0.55px;">BOILERMAKING</div>
<div style="position:absolute;left:33px;top:1241px;width:2527px;height:1.2px;background:#e4e8ed"></div>
<div style="position:absolute;left:52px;top:1198px;width:29px;height:29px;box-sizing:border-box;border:2px solid #d7dde5;border-radius:5px;background:#fff"></div>
<div class="t" style="left:123.00px;top:1199.41px;font-size:26px;color:#1f80f1;font-weight:400;letter-spacing:1.8px;">2761</div>
<div style="position:absolute;left:265px;top:1191.01px;width:43.4px;height:43.4px;box-sizing:border-box;border:1.6px solid #e1e6eb;border-radius:50%;background:#fff"></div>
<svg style="position:absolute;left:278.3px;top:1201.7px;overflow:visible" width="17.5" height="22" viewBox="0 0 17.5 22" fill="none" stroke="#5aa8ff" stroke-width="1.7" stroke-linecap="round" stroke-linejoin="round" ><rect x="0.9" y="0.9" width="15.7" height="20.2" stroke-linejoin="miter"/><path d="M4.6 5.8h8.3M4.6 9.8h8.3" stroke-linecap="butt"/><path d="M0.9 14.3h4.6a3.25 3.25 0 0 0 6.5 0h4.6" stroke-linecap="butt"/></svg>
<div class="t" style="left:315.70px;top:1199.41px;font-size:26px;color:#1f80f1;font-weight:400;letter-spacing:0.68px;width:520px;overflow:hidden;">Electric Motor PM</div>
<div style="position:absolute;left:865px;top:1191.01px;width:44px;height:44px;border-radius:50%;background:#e4f1fe"></div>
<svg style="position:absolute;left:876px;top:1201.8px;overflow:visible" width="22" height="22" viewBox="0 0 24 24" fill="none" stroke="#55a4fd" stroke-width="1.9" stroke-linecap="round" stroke-linejoin="round" ><path d="M12 2l10 6.5v7L12 22 2 15.5v-7z"/><path d="M12 22v-6.5M22 8.5l-10 7-10-7M2 15.5l10-7 10 7M12 2v6.5"/></svg>
<div style="position:absolute;left:917px;top:1199.41px;width:313px;height:30px;overflow:hidden;white-space:nowrap;font-size:26px;line-height:26px;color:#1f80f1;letter-spacing:0.27px">MOTOR 2 AG-4521M07</div>
<div style="position:absolute;left:1251px;top:1194.8px;width:78px;height:37px;background:#defbd8;border-radius:5px"></div>
<div class="t" style="left:1263.00px;top:1202.09px;font-size:22px;color:#22911a;font-weight:400;letter-spacing:0.25px;-webkit-text-stroke:0.2px;">Done</div>
<div style="position:absolute;left:1575px;top:1194.8px;width:66px;height:37px;background:#3aa82a;border-radius:5px"></div>
<div class="t" style="left:1587.00px;top:1202.09px;font-size:22px;color:#fff;font-weight:400;letter-spacing:0.55px;-webkit-text-stroke:0.3px #fff;">Low</div>
<div style="position:absolute;left:1899px;top:1194.8px;width:136px;height:37px;background:#f5ebfe;border-radius:5px"></div>
<div class="t" style="left:1910.80px;top:1202.09px;font-size:22px;color:#a449ea;font-weight:400;letter-spacing:0.65px;-webkit-text-stroke:0.3px;">Scheduled</div>
<div style="position:absolute;left:2309px;top:1194.51px;width:35px;height:35px;border-radius:50%;background:#2388ff;color:#fff;font-size:22px;line-height:35px;text-align:center">E</div>
<div class="t" style="left:2357.00px;top:1199.41px;font-size:26px;color:#2b2e33;font-weight:400;letter-spacing:-0.55px;">ELECTRICAL</div>
<div style="position:absolute;left:100px;top:1242px;width:2460px;height:59px;background:#f9fafc"></div>
<div style="position:absolute;left:33px;top:1300px;width:2527px;height:1.2px;background:#e4e8ed"></div>
<div style="position:absolute;left:52px;top:1256px;width:29px;height:29px;box-sizing:border-box;border:2px solid #d7dde5;border-radius:5px;background:#fff"></div>
<div class="t" style="left:123.00px;top:1258.34px;font-size:26px;color:#1f80f1;font-weight:400;letter-spacing:1.8px;">3285</div>
<div style="position:absolute;left:265px;top:1249.94px;width:43.4px;height:43.4px;box-sizing:border-box;border:1.6px solid #e1e6eb;border-radius:50%;background:#fff"></div>
<svg style="position:absolute;left:278.3px;top:1260.6px;overflow:visible" width="17.5" height="22" viewBox="0 0 17.5 22" fill="none" stroke="#5aa8ff" stroke-width="1.7" stroke-linecap="round" stroke-linejoin="round" ><rect x="0.9" y="0.9" width="15.7" height="20.2" stroke-linejoin="miter"/><path d="M4.6 5.8h8.3M4.6 9.8h8.3" stroke-linecap="butt"/><path d="M0.9 14.3h4.6a3.25 3.25 0 0 0 6.5 0h4.6" stroke-linecap="butt"/></svg>
<div class="t" style="left:315.70px;top:1258.34px;font-size:26px;color:#1f80f1;font-weight:400;letter-spacing:-0.45px;width:520px;overflow:hidden;">CORN CONVEYOR BELT CT-1 SUPPLIE...</div>
<div style="position:absolute;left:865px;top:1249.94px;width:44px;height:44px;border-radius:50%;background:#e4f1fe"></div>
<svg style="position:absolute;left:876px;top:1260.7px;overflow:visible" width="22" height="22" viewBox="0 0 24 24" fill="none" stroke="#55a4fd" stroke-width="1.9" stroke-linecap="round" stroke-linejoin="round" ><path d="M12 2l10 6.5v7L12 22 2 15.5v-7z"/><path d="M12 22v-6.5M22 8.5l-10 7-10-7M2 15.5l10-7 10 7M12 2v6.5"/></svg>
<div style="position:absolute;left:917px;top:1258.34px;width:313px;height:30px;overflow:hidden;white-space:nowrap;font-size:26px;line-height:26px;color:#1f80f1;letter-spacing:-0.4px">DISTRIBUTOR HOPPER (TRANSFER)</div>
<div style="position:absolute;left:1251px;top:1253.7px;width:109px;height:37px;background:#e6f2fe;border-radius:5px"></div>
<svg style="position:absolute;left:1264px;top:1262.7px;overflow:visible" width="19" height="19" viewBox="0 0 19 19" fill="none" stroke="#1a84ff" stroke-width="2" stroke-linecap="round" stroke-linejoin="round" ><path d="M5 8.2V3.4a2 2 0 0 1 2-2h5a2 2 0 0 1 2 2v1.4"/><rect x="2.6" y="8.6" width="13" height="8"/><path d="M9.1 11.6v2" stroke-width="1.6"/></svg>
<div class="t" style="left:1291.50px;top:1261.02px;font-size:22px;color:#1a84ff;font-weight:400;letter-spacing:0.3px;-webkit-text-stroke:0.25px;">Open</div>
<div style="position:absolute;left:1575px;top:1253.7px;width:108px;height:37px;background:#e0920d;border-radius:5px"></div>
<div class="t" style="left:1587.00px;top:1261.02px;font-size:22px;color:#fff;font-weight:400;letter-spacing:0.55px;-webkit-text-stroke:0.3px #fff;">Medium</div>
<div style="position:absolute;left:1899px;top:1253.7px;width:108px;height:37px;background:#edf4fe;border-radius:5px"></div>
<div class="t" style="left:1910.80px;top:1261.02px;font-size:22px;color:#3a83ef;font-weight:400;letter-spacing:0.65px;-webkit-text-stroke:0.3px;">Planned</div>
<div style="position:absolute;left:2309px;top:1253.44px;width:35px;height:35px;border-radius:50%;background:#2388ff;color:#fff;font-size:22px;line-height:35px;text-align:center">M</div>
<div class="t" style="left:2357.00px;top:1258.34px;font-size:26px;color:#2b2e33;font-weight:400;letter-spacing:0.45px;">Maintenance</div>
<div style="position:absolute;left:33px;top:1359px;width:2527px;height:1.2px;background:#e4e8ed"></div>
<div style="position:absolute;left:52px;top:1315px;width:29px;height:29px;box-sizing:border-box;border:2px solid #d7dde5;border-radius:5px;background:#fff"></div>
<div class="t" style="left:123.00px;top:1317.27px;font-size:26px;color:#1f80f1;font-weight:400;letter-spacing:1.8px;">2763</div>
<div style="position:absolute;left:265px;top:1308.87px;width:43.4px;height:43.4px;box-sizing:border-box;border:1.6px solid #e1e6eb;border-radius:50%;background:#fff"></div>
<svg style="position:absolute;left:278.3px;top:1319.6px;overflow:visible" width="17.5" height="22" viewBox="0 0 17.5 22" fill="none" stroke="#5aa8ff" stroke-width="1.7" stroke-linecap="round" stroke-linejoin="round" ><rect x="0.9" y="0.9" width="15.7" height="20.2" stroke-linejoin="miter"/><path d="M4.6 5.8h8.3M4.6 9.8h8.3" stroke-linecap="butt"/><path d="M0.9 14.3h4.6a3.25 3.25 0 0 0 6.5 0h4.6" stroke-linecap="butt"/></svg>
<div class="t" style="left:315.70px;top:1317.27px;font-size:26px;color:#1f80f1;font-weight:400;letter-spacing:0.68px;width:520px;overflow:hidden;">Electric Motor PM</div>
<div style="position:absolute;left:865px;top:1308.87px;width:44px;height:44px;border-radius:50%;background:#e4f1fe"></div>
<svg style="position:absolute;left:876px;top:1319.7px;overflow:visible" width="22" height="22" viewBox="0 0 24 24" fill="none" stroke="#55a4fd" stroke-width="1.9" stroke-linecap="round" stroke-linejoin="round" ><path d="M12 2l10 6.5v7L12 22 2 15.5v-7z"/><path d="M12 22v-6.5M22 8.5l-10 7-10-7M2 15.5l10-7 10 7M12 2v6.5"/></svg>
<div style="position:absolute;left:917px;top:1317.27px;width:313px;height:30px;overflow:hidden;white-space:nowrap;font-size:26px;line-height:26px;color:#1f80f1;letter-spacing:-0.15px">CORN MI...</div>
<div style="position:absolute;left:1251px;top:1312.7px;width:109px;height:37px;background:#e6f2fe;border-radius:5px"></div>
<svg style="position:absolute;left:1264px;top:1321.7px;overflow:visible" width="19" height="19" viewBox="0 0 19 19" fill="none" stroke="#1a84ff" stroke-width="2" stroke-linecap="round" stroke-linejoin="round" ><path d="M5 8.2V3.4a2 2 0 0 1 2-2h5a2 2 0 0 1 2 2v1.4"/><rect x="2.6" y="8.6" width="13" height="8"/><path d="M9.1 11.6v2" stroke-width="1.6"/></svg>
<div class="t" style="left:1291.50px;top:1319.95px;font-size:22px;color:#1a84ff;font-weight:400;letter-spacing:0.3px;-webkit-text-stroke:0.25px;">Open</div>
<div style="position:absolute;left:1575px;top:1312.7px;width:72px;height:37px;background:#ee4346;border-radius:5px"></div>
<div class="t" style="left:1587.00px;top:1319.95px;font-size:22px;color:#fff;font-weight:400;letter-spacing:0.55px;-webkit-text-stroke:0.3px #fff;">High</div>
<div style="position:absolute;left:1899px;top:1312.7px;width:136px;height:37px;background:#f5ebfe;border-radius:5px"></div>
<div class="t" style="left:1910.80px;top:1319.95px;font-size:22px;color:#a449ea;font-weight:400;letter-spacing:0.65px;-webkit-text-stroke:0.3px;">Scheduled</div>
<div style="position:absolute;left:2309px;top:1312.37px;width:35px;height:35px;border-radius:50%;background:#2388ff;color:#fff;font-size:22px;line-height:35px;text-align:center">B</div>
<div class="t" style="left:2357.00px;top:1317.27px;font-size:26px;color:#2b2e33;font-weight:400;letter-spacing:-0.55px;">BOILERMAKING</div>
<div style="position:absolute;left:100px;top:1360px;width:2460px;height:59px;background:#f9fafc"></div>
<div style="position:absolute;left:33px;top:1418px;width:2527px;height:1.2px;background:#e4e8ed"></div>
<div style="position:absolute;left:52px;top:1374px;width:29px;height:29px;box-sizing:border-box;border:2px solid #d7dde5;border-radius:5px;background:#fff"></div>
<div class="t" style="left:123.00px;top:1376.20px;font-size:26px;color:#1f80f1;font-weight:400;letter-spacing:1.8px;">4321</div>
<div style="position:absolute;left:265px;top:1367.80px;width:43.4px;height:43.4px;box-sizing:border-box;border:1.6px solid #e1e6eb;border-radius:50%;background:#fff"></div>
<svg style="position:absolute;left:278.3px;top:1378.5px;overflow:visible" width="17.5" height="22" viewBox="0 0 17.5 22" fill="none" stroke="#5aa8ff" stroke-width="1.7" stroke-linecap="round" stroke-linejoin="round" ><rect x="0.9" y="0.9" width="15.7" height="20.2" stroke-linejoin="miter"/><path d="M4.6 5.8h8.3M4.6 9.8h8.3" stroke-linecap="butt"/><path d="M0.9 14.3h4.6a3.25 3.25 0 0 0 6.5 0h4.6" stroke-linecap="butt"/></svg>
<div class="t" style="left:315.70px;top:1376.20px;font-size:26px;color:#1f80f1;font-weight:400;letter-spacing:-0.39px;width:520px;overflow:hidden;">FUSEL OIL PUMP 1 FOR VAPOR MOLEC...</div>
<div style="position:absolute;left:865px;top:1367.80px;width:44px;height:44px;border-radius:50%;background:#e4f1fe"></div>
<svg style="position:absolute;left:876px;top:1378.6px;overflow:visible" width="22" height="22" viewBox="0 0 24 24" fill="none" stroke="#55a4fd" stroke-width="1.9" stroke-linecap="round" stroke-linejoin="round" ><path d="M12 2l10 6.5v7L12 22 2 15.5v-7z"/><path d="M12 22v-6.5M22 8.5l-10 7-10-7M2 15.5l10-7 10 7M12 2v6.5"/></svg>
<div style="position:absolute;left:917px;top:1376.20px;width:313px;height:30px;overflow:hidden;white-space:nowrap;font-size:26px;line-height:26px;color:#1f80f1;letter-spacing:-0.25px">ROLLER BELT INF. LD AG-4521</div>
<div style="position:absolute;left:1251px;top:1371.6px;width:78px;height:37px;background:#defbd8;border-radius:5px"></div>
<div class="t" style="left:1263.00px;top:1378.88px;font-size:22px;color:#22911a;font-weight:400;letter-spacing:0.25px;-webkit-text-stroke:0.2px;">Done</div>
<div style="position:absolute;left:1575px;top:1371.6px;width:66px;height:37px;background:#3aa82a;border-radius:5px"></div>
<div class="t" style="left:1587.00px;top:1378.88px;font-size:22px;color:#fff;font-weight:400;letter-spacing:0.55px;-webkit-text-stroke:0.3px #fff;">Low</div>
<div style="position:absolute;left:1899px;top:1371.6px;width:136px;height:37px;background:#f5ebfe;border-radius:5px"></div>
<div class="t" style="left:1910.80px;top:1378.88px;font-size:22px;color:#a449ea;font-weight:400;letter-spacing:0.65px;-webkit-text-stroke:0.3px;">Scheduled</div>
<div style="position:absolute;left:2309px;top:1371.30px;width:35px;height:35px;border-radius:50%;background:#2388ff;color:#fff;font-size:22px;line-height:35px;text-align:center">I</div>
<div class="t" style="left:2357.00px;top:1376.20px;font-size:26px;color:#2b2e33;font-weight:400;letter-spacing:-0.55px;">INSTRUMEN...</div>
</body></html>
